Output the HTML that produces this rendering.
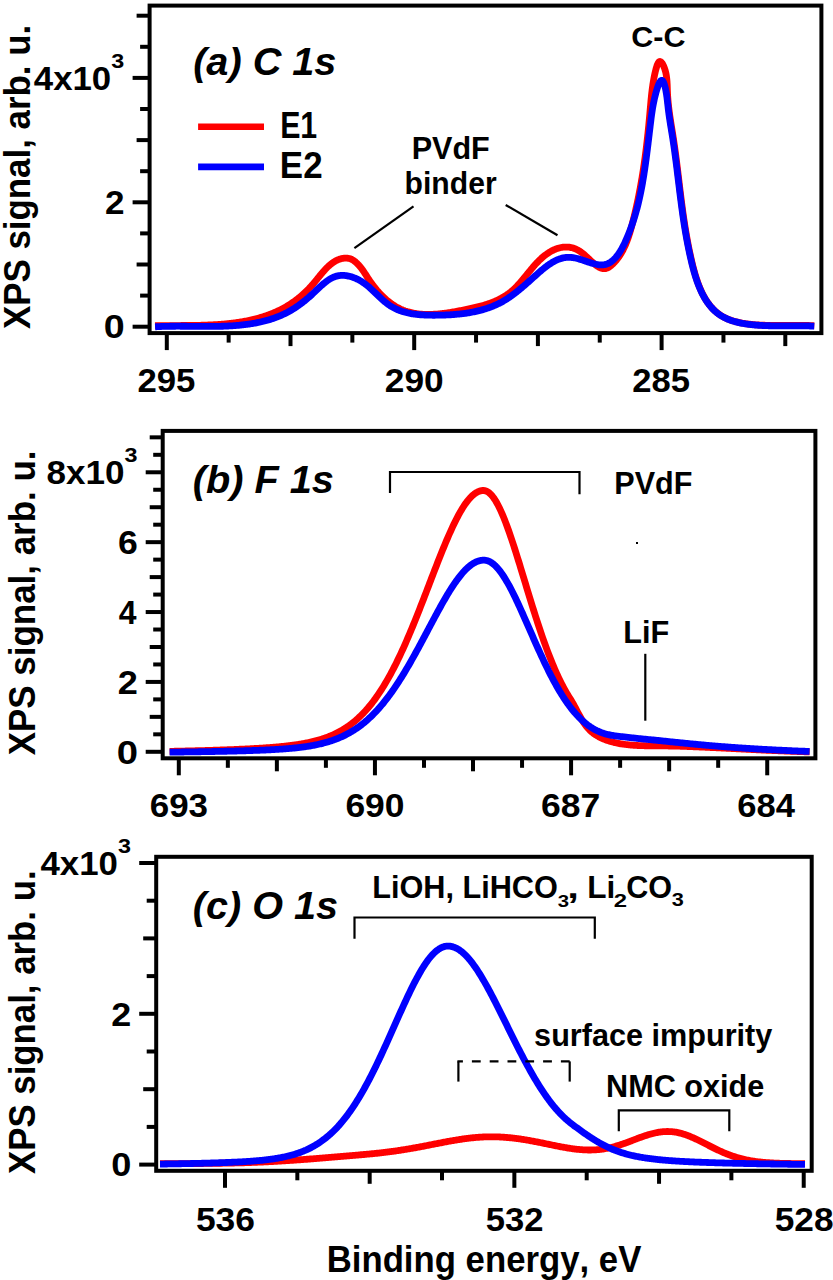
<!DOCTYPE html><html><head><meta charset="utf-8"><style>html,body{margin:0;padding:0;background:#fff;}svg{display:block}text{font-family:"Liberation Sans",sans-serif;font-weight:bold;font-kerning:none;fill:#000}</style></head><body><svg width="833" height="1280" viewBox="0 0 833 1280">
<rect width="833" height="1280" fill="#fff"/>
<path d="M155.04 325.77 L156.1 325.74 L157.17 325.72 L158.24 325.7 L159.32 325.68 L160.39 325.66 L161.47 325.65 L162.55 325.64 L163.64 325.62 L164.72 325.61 L165.81 325.6 L166.9 325.59 L167.99 325.58 L169.09 325.58 L170.19 325.57 L171.29 325.57 L172.39 325.56 L173.49 325.56 L174.6 325.55 L175.7 325.55 L176.81 325.54 L177.92 325.54 L179.03 325.53 L180.15 325.53 L181.26 325.52 L182.38 325.52 L183.5 325.51 L184.61 325.51 L185.73 325.5 L186.86 325.49 L187.98 325.48 L189.1 325.47 L190.23 325.46 L191.35 325.45 L192.48 325.43 L193.6 325.42 L194.73 325.4 L195.86 325.38 L196.99 325.36 L198.12 325.34 L199.25 325.31 L200.38 325.28 L201.51 325.25 L202.64 325.22 L203.77 325.19 L204.9 325.15 L206.03 325.11 L207.16 325.07 L208.29 325.02 L209.42 324.98 L210.55 324.93 L211.68 324.87 L212.81 324.81 L213.94 324.75 L215.07 324.69 L216.2 324.62 L217.32 324.55 L218.45 324.47 L219.58 324.39 L220.7 324.3 L221.83 324.22 L222.95 324.12 L224.07 324.02 L225.19 323.92 L226.31 323.82 L227.43 323.71 L228.55 323.59 L229.67 323.47 L230.78 323.34 L231.9 323.21 L233.01 323.07 L234.12 322.93 L235.23 322.78 L236.34 322.63 L237.44 322.47 L238.55 322.31 L239.65 322.14 L240.75 321.96 L241.85 321.78 L242.94 321.59 L244.04 321.39 L245.13 321.19 L246.22 320.98 L247.3 320.77 L248.39 320.55 L249.47 320.32 L250.55 320.08 L251.63 319.84 L252.7 319.59 L253.77 319.33 L254.84 319.07 L255.91 318.79 L256.97 318.51 L258.03 318.23 L259.09 317.93 L260.14 317.63 L261.19 317.31 L262.24 317 L263.28 316.67 L264.32 316.33 L265.36 315.99 L266.39 315.63 L267.42 315.27 L268.45 314.9 L269.47 314.52 L270.49 314.13 L271.51 313.73 L272.52 313.32 L273.53 312.91 L274.53 312.48 L275.53 312.04 L276.52 311.6 L277.51 311.14 L278.5 310.68 L279.48 310.2 L280.46 309.71 L281.43 309.22 L282.4 308.71 L283.37 308.2 L284.33 307.67 L285.28 307.13 L286.23 306.58 L287.18 306.02 L288.12 305.45 L289.05 304.87 L289.98 304.28 L290.91 303.67 L291.82 303.06 L292.74 302.43 L293.65 301.8 L294.55 301.15 L295.45 300.49 L296.34 299.83 L297.23 299.15 L298.11 298.46 L298.98 297.76 L299.85 297.04 L300.71 296.32 L301.57 295.59 L302.42 294.85 L303.26 294.09 L304.1 293.33 L304.93 292.56 L305.75 291.77 L306.57 290.98 L307.38 290.17 L308.18 289.36 L308.98 288.53 L309.76 287.7 L310.55 286.85 L311.32 285.99 L312.09 285.13 L312.85 284.25 L313.6 283.37 L314.35 282.48 L315.09 281.58 L315.83 280.68 L316.56 279.77 L317.29 278.87 L318.03 277.96 L318.76 277.06 L319.49 276.16 L320.22 275.26 L320.95 274.37 L321.69 273.49 L322.43 272.62 L323.17 271.76 L323.92 270.91 L324.67 270.07 L325.44 269.25 L326.21 268.44 L326.98 267.65 L327.77 266.88 L328.57 266.13 L329.38 265.41 L330.2 264.7 L331.03 264.02 L331.88 263.37 L332.74 262.75 L333.62 262.16 L334.51 261.59 L335.42 261.06 L336.35 260.56 L337.29 260.1 L338.26 259.68 L339.23 259.3 L340.22 258.96 L341.22 258.67 L342.22 258.44 L343.23 258.26 L344.24 258.13 L345.25 258.07 L346.26 258.07 L347.26 258.14 L348.26 258.28 L349.25 258.49 L350.23 258.78 L351.19 259.15 L352.14 259.61 L353.07 260.14 L353.98 260.75 L354.88 261.42 L355.75 262.15 L356.59 262.92 L357.42 263.72 L358.21 264.55 L358.98 265.4 L359.72 266.26 L360.45 267.13 L361.14 268.02 L361.83 268.91 L362.49 269.82 L363.14 270.74 L363.78 271.66 L364.4 272.59 L365.02 273.52 L365.63 274.46 L366.24 275.4 L366.85 276.35 L367.46 277.29 L368.07 278.24 L368.69 279.18 L369.32 280.12 L369.95 281.06 L370.6 281.99 L371.25 282.92 L371.92 283.85 L372.6 284.76 L373.28 285.68 L373.98 286.58 L374.69 287.48 L375.4 288.37 L376.13 289.25 L376.86 290.13 L377.61 290.99 L378.37 291.85 L379.13 292.69 L379.9 293.53 L380.69 294.36 L381.48 295.17 L382.28 295.97 L383.09 296.76 L383.91 297.54 L384.74 298.3 L385.58 299.05 L386.42 299.79 L387.28 300.51 L388.14 301.22 L389.01 301.91 L389.89 302.58 L390.78 303.24 L391.68 303.89 L392.58 304.51 L393.49 305.12 L394.41 305.71 L395.34 306.28 L396.28 306.83 L397.22 307.36 L398.17 307.87 L399.13 308.36 L400.09 308.83 L401.07 309.28 L402.05 309.7 L403.03 310.11 L404.03 310.49 L405.03 310.86 L406.03 311.2 L407.05 311.53 L408.07 311.83 L409.09 312.12 L410.12 312.39 L411.16 312.64 L412.2 312.87 L413.25 313.08 L414.3 313.28 L415.36 313.46 L416.42 313.62 L417.49 313.77 L418.56 313.9 L419.64 314.01 L420.72 314.11 L421.8 314.2 L422.89 314.27 L423.98 314.32 L425.08 314.36 L426.18 314.39 L427.28 314.41 L428.39 314.41 L429.5 314.4 L430.61 314.38 L431.72 314.35 L432.84 314.3 L433.96 314.25 L435.08 314.18 L436.2 314.1 L437.32 314.02 L438.45 313.92 L439.58 313.81 L440.71 313.7 L441.84 313.57 L442.97 313.44 L444.1 313.3 L445.23 313.15 L446.37 313 L447.5 312.84 L448.63 312.67 L449.77 312.49 L450.9 312.31 L452.04 312.13 L453.17 311.94 L454.3 311.74 L455.43 311.54 L456.56 311.33 L457.69 311.12 L458.82 310.91 L459.95 310.7 L461.07 310.48 L462.2 310.26 L463.32 310.03 L464.44 309.81 L465.56 309.58 L466.67 309.35 L467.78 309.12 L468.89 308.89 L470 308.65 L471.1 308.41 L472.2 308.17 L473.3 307.92 L474.4 307.67 L475.49 307.41 L476.57 307.15 L477.65 306.88 L478.73 306.61 L479.8 306.33 L480.87 306.04 L481.94 305.75 L483 305.45 L484.05 305.14 L485.1 304.82 L486.14 304.49 L487.18 304.16 L488.22 303.81 L489.24 303.46 L490.26 303.1 L491.28 302.72 L492.29 302.34 L493.29 301.94 L494.28 301.53 L495.27 301.11 L496.25 300.68 L497.22 300.24 L498.19 299.78 L499.15 299.31 L500.1 298.82 L501.04 298.33 L501.98 297.81 L502.91 297.28 L503.83 296.74 L504.74 296.18 L505.64 295.61 L506.53 295.02 L507.42 294.41 L508.29 293.79 L509.16 293.14 L510.01 292.48 L510.86 291.81 L511.69 291.11 L512.52 290.4 L513.34 289.66 L514.14 288.91 L514.94 288.15 L515.73 287.36 L516.52 286.57 L517.29 285.75 L518.06 284.93 L518.83 284.1 L519.59 283.25 L520.34 282.39 L521.09 281.53 L521.83 280.65 L522.58 279.77 L523.32 278.89 L524.05 277.99 L524.79 277.1 L525.52 276.2 L526.26 275.29 L526.99 274.39 L527.72 273.49 L528.46 272.58 L529.2 271.68 L529.93 270.77 L530.67 269.88 L531.42 268.98 L532.17 268.09 L532.92 267.21 L533.68 266.33 L534.44 265.46 L535.21 264.6 L535.98 263.75 L536.76 262.91 L537.55 262.08 L538.35 261.26 L539.15 260.46 L539.96 259.66 L540.79 258.89 L541.62 258.13 L542.46 257.39 L543.32 256.66 L544.18 255.96 L545.06 255.27 L545.94 254.61 L546.84 253.96 L547.74 253.34 L548.66 252.74 L549.58 252.17 L550.5 251.62 L551.44 251.1 L552.38 250.6 L553.33 250.14 L554.29 249.7 L555.25 249.29 L556.22 248.91 L557.19 248.56 L558.17 248.25 L559.15 247.97 L560.14 247.73 L561.13 247.51 L562.12 247.34 L563.12 247.2 L564.12 247.11 L565.12 247.05 L566.12 247.03 L567.12 247.05 L568.13 247.11 L569.13 247.22 L570.14 247.37 L571.14 247.56 L572.15 247.8 L573.15 248.08 L574.15 248.42 L575.15 248.8 L576.15 249.23 L577.14 249.71 L578.14 250.24 L579.13 250.83 L580.11 251.46 L581.09 252.15 L582.07 252.89 L583.04 253.67 L584.01 254.48 L584.98 255.32 L585.94 256.19 L586.9 257.07 L587.85 257.96 L588.8 258.85 L589.75 259.75 L590.69 260.63 L591.63 261.5 L592.57 262.35 L593.5 263.18 L594.43 263.97 L595.36 264.72 L596.28 265.42 L597.2 266.07 L598.11 266.67 L599.03 267.2 L599.94 267.66 L600.85 268.04 L601.75 268.34 L602.65 268.56 L603.55 268.67 L604.45 268.69 L605.34 268.59 L606.23 268.39 L607.12 268.08 L608 267.68 L608.87 267.19 L609.73 266.62 L610.58 265.99 L611.42 265.3 L612.24 264.56 L613.05 263.79 L613.84 262.98 L614.6 262.16 L615.35 261.33 L616.07 260.48 L616.78 259.61 L617.46 258.74 L618.13 257.85 L618.77 256.95 L619.4 256.03 L620.01 255.11 L620.61 254.17 L621.18 253.23 L621.74 252.27 L622.29 251.31 L622.81 250.33 L623.33 249.34 L623.82 248.35 L624.31 247.35 L624.78 246.34 L625.24 245.32 L625.68 244.29 L626.11 243.26 L626.53 242.22 L626.94 241.18 L627.34 240.13 L627.72 239.07 L628.1 238.01 L628.47 236.94 L628.82 235.87 L629.17 234.79 L629.51 233.71 L629.85 232.63 L630.17 231.55 L630.49 230.46 L630.8 229.37 L631.11 228.28 L631.41 227.18 L631.7 226.09 L631.99 225 L632.28 223.9 L632.56 222.8 L632.84 221.71 L633.12 220.61 L633.39 219.52 L633.66 218.43 L633.93 217.34 L634.2 216.24 L634.46 215.15 L634.72 214.06 L634.98 212.97 L635.23 211.88 L635.48 210.79 L635.73 209.71 L635.98 208.62 L636.22 207.53 L636.47 206.44 L636.71 205.36 L636.94 204.27 L637.18 203.18 L637.41 202.1 L637.64 201.01 L637.86 199.93 L638.09 198.85 L638.31 197.76 L638.53 196.68 L638.75 195.59 L638.96 194.51 L639.17 193.43 L639.38 192.34 L639.59 191.26 L639.8 190.18 L640 189.09 L640.2 188.01 L640.4 186.93 L640.6 185.85 L640.79 184.76 L640.98 183.68 L641.18 182.6 L641.36 181.52 L641.55 180.43 L641.73 179.35 L641.92 178.27 L642.1 177.18 L642.27 176.1 L642.45 175.02 L642.63 173.93 L642.8 172.85 L642.97 171.77 L643.14 170.68 L643.3 169.6 L643.47 168.51 L643.63 167.43 L643.79 166.34 L643.95 165.26 L644.11 164.17 L644.27 163.08 L644.42 161.99 L644.57 160.91 L644.73 159.82 L644.88 158.73 L645.02 157.64 L645.17 156.55 L645.31 155.46 L645.46 154.37 L645.6 153.28 L645.74 152.19 L645.88 151.09 L646.01 150 L646.15 148.91 L646.28 147.81 L646.42 146.72 L646.55 145.62 L646.68 144.52 L646.81 143.42 L646.93 142.32 L647.06 141.23 L647.18 140.12 L647.31 139.02 L647.43 137.92 L647.55 136.82 L647.67 135.71 L647.79 134.61 L647.91 133.5 L648.02 132.4 L648.14 131.29 L648.25 130.18 L648.37 129.07 L648.48 127.96 L648.59 126.84 L648.7 125.73 L648.81 124.62 L648.91 123.5 L649.02 122.38 L649.13 121.26 L649.23 120.14 L649.34 119.02 L649.44 117.9 L649.54 116.78 L649.64 115.65 L649.75 114.53 L649.85 113.4 L649.94 112.27 L650.04 111.14 L650.14 110.01 L650.24 108.87 L650.34 107.74 L650.44 106.6 L650.54 105.47 L650.64 104.33 L650.74 103.19 L650.84 102.06 L650.95 100.92 L651.05 99.78 L651.16 98.64 L651.28 97.5 L651.39 96.36 L651.51 95.22 L651.63 94.09 L651.76 92.95 L651.89 91.81 L652.03 90.67 L652.17 89.54 L652.32 88.4 L652.47 87.27 L652.63 86.14 L652.79 85 L652.96 83.87 L653.14 82.75 L653.32 81.62 L653.52 80.49 L653.72 79.37 L653.92 78.25 L654.14 77.13 L654.37 76.01 L654.6 74.89 L654.84 73.78 L655.09 72.67 L655.36 71.56 L655.63 70.45 L655.91 69.35 L656.21 68.26 L656.51 67.2 L656.83 66.19 L657.16 65.23 L657.5 64.35 L657.86 63.55 L658.23 62.86 L658.61 62.3 L659.01 61.87 L659.43 61.59 L659.86 61.48 L660.31 61.54 L660.77 61.78 L661.24 62.17 L661.72 62.7 L662.19 63.35 L662.66 64.12 L663.12 64.99 L663.57 65.93 L664 66.95 L664.41 68.01 L664.79 69.12 L665.15 70.25 L665.46 71.39 L665.75 72.53 L666 73.67 L666.22 74.82 L666.41 75.98 L666.57 77.13 L666.72 78.29 L666.84 79.45 L666.94 80.61 L667.03 81.77 L667.1 82.93 L667.17 84.1 L667.22 85.26 L667.26 86.43 L667.3 87.59 L667.34 88.75 L667.38 89.91 L667.42 91.07 L667.47 92.23 L667.52 93.39 L667.58 94.54 L667.64 95.7 L667.72 96.85 L667.8 98 L667.89 99.14 L667.98 100.29 L668.09 101.43 L668.19 102.57 L668.31 103.71 L668.43 104.85 L668.55 105.98 L668.68 107.11 L668.81 108.25 L668.95 109.38 L669.1 110.5 L669.24 111.63 L669.39 112.75 L669.55 113.88 L669.71 115 L669.87 116.12 L670.03 117.24 L670.2 118.36 L670.37 119.47 L670.54 120.59 L670.71 121.7 L670.88 122.81 L671.06 123.92 L671.24 125.03 L671.41 126.14 L671.59 127.25 L671.77 128.35 L671.95 129.46 L672.12 130.56 L672.3 131.67 L672.48 132.77 L672.65 133.87 L672.83 134.97 L673 136.07 L673.17 137.17 L673.34 138.27 L673.51 139.36 L673.67 140.46 L673.83 141.55 L674 142.65 L674.16 143.74 L674.31 144.84 L674.47 145.93 L674.62 147.02 L674.78 148.11 L674.93 149.2 L675.08 150.29 L675.23 151.38 L675.38 152.47 L675.52 153.56 L675.67 154.65 L675.81 155.73 L675.95 156.82 L676.09 157.91 L676.23 158.99 L676.37 160.08 L676.51 161.16 L676.65 162.25 L676.79 163.33 L676.92 164.42 L677.06 165.5 L677.19 166.58 L677.33 167.67 L677.46 168.75 L677.59 169.83 L677.72 170.92 L677.86 172 L677.99 173.08 L678.12 174.16 L678.25 175.24 L678.38 176.33 L678.51 177.41 L678.64 178.49 L678.77 179.57 L678.9 180.65 L679.03 181.73 L679.16 182.81 L679.29 183.9 L679.42 184.98 L679.55 186.06 L679.68 187.14 L679.81 188.22 L679.94 189.3 L680.07 190.39 L680.2 191.47 L680.34 192.55 L680.47 193.63 L680.6 194.72 L680.74 195.8 L680.87 196.88 L681.01 197.97 L681.15 199.05 L681.28 200.13 L681.42 201.22 L681.56 202.3 L681.7 203.39 L681.84 204.47 L681.99 205.56 L682.13 206.65 L682.27 207.73 L682.42 208.82 L682.57 209.91 L682.72 211 L682.87 212.09 L683.02 213.18 L683.17 214.27 L683.32 215.36 L683.48 216.45 L683.64 217.54 L683.8 218.63 L683.96 219.73 L684.12 220.82 L684.29 221.91 L684.45 223.01 L684.62 224.11 L684.79 225.2 L684.97 226.3 L685.14 227.4 L685.32 228.5 L685.5 229.6 L685.68 230.7 L685.86 231.8 L686.05 232.9 L686.24 234.01 L686.43 235.11 L686.62 236.22 L686.82 237.32 L687.02 238.43 L687.22 239.54 L687.42 240.65 L687.63 241.76 L687.84 242.87 L688.05 243.99 L688.27 245.1 L688.48 246.22 L688.71 247.33 L688.93 248.45 L689.16 249.57 L689.39 250.69 L689.62 251.81 L689.86 252.93 L690.1 254.06 L690.34 255.18 L690.59 256.31 L690.84 257.44 L691.09 258.56 L691.35 259.7 L691.61 260.83 L691.88 261.96 L692.15 263.09 L692.42 264.22 L692.7 265.36 L692.98 266.49 L693.27 267.62 L693.57 268.74 L693.87 269.87 L694.17 270.99 L694.48 272.12 L694.8 273.23 L695.13 274.35 L695.46 275.46 L695.8 276.57 L696.14 277.67 L696.5 278.77 L696.86 279.86 L697.23 280.95 L697.6 282.03 L697.99 283.1 L698.38 284.17 L698.79 285.23 L699.2 286.28 L699.62 287.33 L700.05 288.37 L700.49 289.4 L700.94 290.42 L701.41 291.43 L701.88 292.43 L702.36 293.42 L702.85 294.4 L703.36 295.37 L703.88 296.33 L704.4 297.28 L704.94 298.21 L705.5 299.14 L706.06 300.05 L706.64 300.95 L707.23 301.83 L707.83 302.7 L708.45 303.56 L709.08 304.4 L709.72 305.23 L710.38 306.05 L711.05 306.84 L711.74 307.63 L712.44 308.39 L713.15 309.14 L713.88 309.87 L714.63 310.59 L715.39 311.29 L716.17 311.96 L716.97 312.63 L717.78 313.27 L718.6 313.89 L719.45 314.49 L720.31 315.08 L721.18 315.64 L722.08 316.18 L722.99 316.71 L723.92 317.21 L724.87 317.69 L725.83 318.15 L726.81 318.6 L727.8 319.02 L728.8 319.43 L729.82 319.82 L730.85 320.19 L731.9 320.54 L732.95 320.88 L734.01 321.2 L735.09 321.5 L736.17 321.79 L737.27 322.07 L738.37 322.33 L739.48 322.58 L740.59 322.81 L741.71 323.03 L742.84 323.24 L743.97 323.43 L745.11 323.61 L746.25 323.78 L747.4 323.94 L748.55 324.09 L749.69 324.23 L750.85 324.36 L752 324.47 L753.15 324.58 L754.3 324.68 L755.45 324.78 L756.6 324.86 L757.74 324.94 L758.89 325.01 L760.03 325.07 L761.16 325.13 L762.29 325.18 L763.42 325.23 L764.54 325.27 L765.66 325.3 L766.78 325.33 L767.89 325.36 L769 325.38 L770.11 325.4 L771.22 325.41 L772.32 325.42 L773.42 325.43 L774.52 325.43 L775.61 325.43 L776.71 325.43 L777.8 325.43 L778.89 325.42 L779.98 325.41 L781.07 325.4 L782.16 325.39 L783.25 325.38 L784.34 325.37 L785.42 325.36 L786.51 325.35 L787.6 325.33 L788.69 325.32 L789.77 325.31 L790.86 325.3 L791.95 325.29 L793.05 325.29 L794.14 325.28 L795.23 325.28 L796.33 325.28 L797.43 325.28 L798.52 325.28 L799.63 325.29 L800.73 325.3 L801.84 325.31 L802.95 325.33 L804.06 325.35 L805.18 325.38 L806.3 325.41 L807.42 325.45 L808.54 325.49 L809.67 325.53 L810.81 325.59 L811.95 325.64 L813.09 325.71 L814.24 325.78" fill="none" stroke="#ff0000" stroke-width="6.8" stroke-linejoin="round" stroke-linecap="butt"/>
<path d="M155.08 326.82 L156.06 326.76 L157.05 326.7 L158.04 326.64 L159.03 326.6 L160.03 326.55 L161.03 326.51 L162.03 326.47 L163.03 326.43 L164.04 326.4 L165.05 326.37 L166.06 326.35 L167.08 326.32 L168.09 326.3 L169.11 326.28 L170.13 326.27 L171.16 326.25 L172.18 326.24 L173.21 326.24 L174.24 326.23 L175.28 326.23 L176.31 326.22 L177.35 326.22 L178.38 326.22 L179.42 326.22 L180.47 326.23 L181.51 326.23 L182.55 326.24 L183.6 326.25 L184.65 326.26 L185.7 326.26 L186.75 326.27 L187.8 326.28 L188.86 326.3 L189.91 326.31 L190.97 326.32 L192.02 326.33 L193.08 326.34 L194.14 326.35 L195.2 326.37 L196.26 326.38 L197.33 326.39 L198.39 326.4 L199.45 326.41 L200.52 326.42 L201.58 326.42 L202.65 326.43 L203.71 326.44 L204.78 326.44 L205.84 326.45 L206.91 326.45 L207.98 326.45 L209.04 326.45 L210.11 326.44 L211.18 326.44 L212.25 326.43 L213.31 326.42 L214.38 326.41 L215.45 326.4 L216.51 326.38 L217.58 326.37 L218.65 326.34 L219.71 326.32 L220.78 326.29 L221.84 326.26 L222.91 326.23 L223.97 326.2 L225.03 326.16 L226.09 326.11 L227.15 326.07 L228.21 326.02 L229.27 325.96 L230.33 325.9 L231.39 325.84 L232.45 325.78 L233.5 325.71 L234.56 325.63 L235.61 325.55 L236.66 325.47 L237.71 325.38 L238.76 325.29 L239.8 325.19 L240.85 325.09 L241.89 324.98 L242.94 324.86 L243.98 324.74 L245.01 324.62 L246.05 324.49 L247.09 324.35 L248.12 324.21 L249.15 324.06 L250.18 323.91 L251.2 323.75 L252.23 323.58 L253.25 323.41 L254.27 323.23 L255.29 323.05 L256.3 322.85 L257.31 322.65 L258.32 322.45 L259.33 322.23 L260.34 322.01 L261.34 321.79 L262.34 321.55 L263.33 321.31 L264.33 321.06 L265.32 320.8 L266.3 320.53 L267.29 320.26 L268.27 319.98 L269.25 319.68 L270.22 319.39 L271.19 319.08 L272.16 318.76 L273.13 318.44 L274.09 318.1 L275.04 317.76 L276 317.41 L276.95 317.05 L277.89 316.68 L278.84 316.3 L279.78 315.91 L280.71 315.52 L281.64 315.11 L282.57 314.69 L283.49 314.26 L284.41 313.83 L285.33 313.38 L286.24 312.92 L287.14 312.45 L288.04 311.97 L288.94 311.48 L289.83 310.99 L290.72 310.48 L291.61 309.96 L292.49 309.42 L293.36 308.88 L294.24 308.33 L295.11 307.77 L295.97 307.2 L296.83 306.62 L297.69 306.03 L298.55 305.44 L299.4 304.83 L300.24 304.21 L301.09 303.58 L301.93 302.95 L302.77 302.3 L303.6 301.65 L304.43 300.98 L305.26 300.31 L306.09 299.63 L306.91 298.94 L307.73 298.24 L308.55 297.53 L309.36 296.82 L310.18 296.09 L310.99 295.36 L311.8 294.62 L312.6 293.87 L313.41 293.12 L314.21 292.36 L315.01 291.59 L315.81 290.83 L316.61 290.06 L317.41 289.3 L318.21 288.54 L319.01 287.78 L319.81 287.03 L320.62 286.29 L321.43 285.56 L322.24 284.84 L323.05 284.13 L323.86 283.44 L324.68 282.77 L325.51 282.11 L326.34 281.48 L327.17 280.87 L328.01 280.28 L328.86 279.72 L329.71 279.18 L330.57 278.68 L331.43 278.2 L332.31 277.76 L333.19 277.35 L334.08 276.98 L334.98 276.64 L335.89 276.35 L336.8 276.09 L337.73 275.88 L338.67 275.71 L339.61 275.57 L340.56 275.48 L341.52 275.42 L342.49 275.41 L343.46 275.42 L344.43 275.48 L345.41 275.57 L346.39 275.69 L347.37 275.85 L348.35 276.04 L349.33 276.26 L350.32 276.52 L351.3 276.8 L352.28 277.11 L353.26 277.46 L354.24 277.83 L355.21 278.23 L356.18 278.65 L357.14 279.1 L358.1 279.58 L359.05 280.08 L359.99 280.61 L360.92 281.15 L361.85 281.72 L362.76 282.31 L363.67 282.92 L364.56 283.55 L365.44 284.2 L366.32 284.87 L367.18 285.55 L368.03 286.25 L368.87 286.96 L369.71 287.69 L370.53 288.42 L371.35 289.16 L372.17 289.91 L372.97 290.67 L373.78 291.43 L374.58 292.19 L375.37 292.96 L376.17 293.73 L376.96 294.5 L377.75 295.26 L378.53 296.02 L379.32 296.78 L380.11 297.53 L380.9 298.27 L381.69 299 L382.49 299.73 L383.29 300.44 L384.09 301.13 L384.89 301.82 L385.7 302.48 L386.52 303.13 L387.35 303.76 L388.18 304.38 L389.02 304.96 L389.86 305.53 L390.72 306.08 L391.58 306.61 L392.45 307.11 L393.32 307.6 L394.21 308.07 L395.1 308.52 L395.99 308.95 L396.9 309.36 L397.81 309.75 L398.72 310.13 L399.65 310.49 L400.58 310.83 L401.51 311.16 L402.45 311.47 L403.4 311.76 L404.35 312.04 L405.31 312.31 L406.27 312.56 L407.24 312.79 L408.22 313.02 L409.19 313.23 L410.18 313.42 L411.16 313.61 L412.16 313.78 L413.15 313.94 L414.15 314.09 L415.16 314.22 L416.17 314.35 L417.18 314.47 L418.2 314.57 L419.22 314.67 L420.24 314.76 L421.27 314.84 L422.3 314.91 L423.33 314.97 L424.37 315.02 L425.4 315.07 L426.45 315.11 L427.49 315.14 L428.54 315.17 L429.58 315.19 L430.63 315.21 L431.69 315.22 L432.74 315.23 L433.8 315.23 L434.85 315.23 L435.91 315.22 L436.97 315.21 L438.03 315.2 L439.09 315.18 L440.16 315.16 L441.22 315.14 L442.29 315.11 L443.35 315.08 L444.42 315.05 L445.48 315.01 L446.55 314.96 L447.61 314.91 L448.68 314.86 L449.74 314.8 L450.81 314.74 L451.87 314.67 L452.94 314.59 L454 314.51 L455.06 314.43 L456.13 314.34 L457.19 314.24 L458.25 314.14 L459.3 314.03 L460.36 313.92 L461.42 313.8 L462.47 313.67 L463.52 313.54 L464.57 313.4 L465.62 313.26 L466.67 313.1 L467.71 312.94 L468.75 312.77 L469.79 312.6 L470.82 312.42 L471.86 312.23 L472.89 312.03 L473.92 311.83 L474.94 311.61 L475.96 311.39 L476.98 311.16 L477.99 310.92 L479 310.68 L480.01 310.42 L481.01 310.16 L482.01 309.89 L483.01 309.61 L484 309.32 L484.98 309.02 L485.97 308.71 L486.94 308.39 L487.92 308.07 L488.88 307.73 L489.85 307.38 L490.8 307.02 L491.76 306.66 L492.7 306.28 L493.65 305.89 L494.58 305.49 L495.51 305.08 L496.44 304.66 L497.36 304.23 L498.27 303.79 L499.18 303.34 L500.08 302.88 L500.97 302.4 L501.86 301.92 L502.74 301.42 L503.62 300.91 L504.49 300.39 L505.36 299.87 L506.22 299.33 L507.07 298.78 L507.92 298.23 L508.77 297.66 L509.61 297.09 L510.45 296.51 L511.28 295.92 L512.12 295.32 L512.94 294.71 L513.77 294.1 L514.59 293.48 L515.4 292.85 L516.22 292.21 L517.03 291.57 L517.84 290.93 L518.64 290.27 L519.45 289.62 L520.25 288.95 L521.05 288.28 L521.85 287.61 L522.65 286.93 L523.45 286.25 L524.25 285.56 L525.05 284.87 L525.84 284.17 L526.64 283.47 L527.43 282.77 L528.23 282.07 L529.02 281.36 L529.82 280.65 L530.62 279.94 L531.42 279.22 L532.21 278.51 L533.02 277.79 L533.82 277.07 L534.62 276.35 L535.43 275.63 L536.23 274.91 L537.04 274.19 L537.85 273.48 L538.67 272.76 L539.49 272.05 L540.31 271.34 L541.13 270.63 L541.96 269.94 L542.79 269.25 L543.62 268.57 L544.46 267.9 L545.3 267.24 L546.14 266.59 L546.99 265.95 L547.84 265.33 L548.7 264.72 L549.56 264.13 L550.43 263.56 L551.3 263.01 L552.18 262.47 L553.06 261.95 L553.95 261.46 L554.85 260.99 L555.74 260.54 L556.65 260.11 L557.56 259.71 L558.48 259.34 L559.4 259 L560.33 258.68 L561.27 258.39 L562.22 258.14 L563.17 257.91 L564.12 257.72 L565.09 257.56 L566.06 257.44 L567.05 257.36 L568.03 257.31 L569.03 257.3 L570.04 257.33 L571.05 257.39 L572.07 257.5 L573.1 257.65 L574.14 257.82 L575.18 258.03 L576.22 258.27 L577.27 258.53 L578.33 258.82 L579.38 259.12 L580.44 259.44 L581.5 259.78 L582.56 260.12 L583.62 260.47 L584.68 260.83 L585.74 261.19 L586.8 261.55 L587.85 261.91 L588.9 262.25 L589.94 262.59 L590.98 262.92 L592.01 263.23 L593.03 263.53 L594.05 263.8 L595.06 264.05 L596.06 264.28 L597.04 264.47 L598.02 264.63 L598.99 264.76 L599.94 264.85 L600.88 264.9 L601.81 264.9 L602.72 264.86 L603.62 264.77 L604.5 264.62 L605.37 264.43 L606.22 264.19 L607.05 263.9 L607.87 263.56 L608.68 263.18 L609.46 262.76 L610.24 262.29 L611 261.79 L611.75 261.24 L612.48 260.66 L613.2 260.04 L613.9 259.39 L614.6 258.7 L615.28 257.98 L615.94 257.24 L616.59 256.46 L617.24 255.66 L617.86 254.83 L618.48 253.97 L619.08 253.09 L619.68 252.2 L620.26 251.28 L620.83 250.34 L621.39 249.38 L621.94 248.41 L622.47 247.43 L623 246.43 L623.52 245.42 L624.02 244.4 L624.52 243.37 L625 242.33 L625.48 241.29 L625.95 240.24 L626.41 239.19 L626.86 238.14 L627.3 237.09 L627.73 236.04 L628.16 235 L628.57 233.95 L628.98 232.92 L629.38 231.89 L629.78 230.86 L630.16 229.84 L630.54 228.83 L630.91 227.82 L631.28 226.81 L631.63 225.81 L631.99 224.82 L632.33 223.82 L632.67 222.84 L633 221.85 L633.32 220.87 L633.64 219.89 L633.96 218.92 L634.26 217.94 L634.57 216.97 L634.86 216 L635.15 215.03 L635.44 214.07 L635.72 213.1 L635.99 212.14 L636.27 211.17 L636.53 210.21 L636.79 209.25 L637.05 208.28 L637.3 207.32 L637.55 206.36 L637.8 205.39 L638.04 204.43 L638.27 203.46 L638.51 202.49 L638.74 201.52 L638.96 200.55 L639.19 199.57 L639.41 198.59 L639.62 197.61 L639.84 196.63 L640.05 195.64 L640.26 194.65 L640.47 193.66 L640.67 192.66 L640.87 191.67 L641.07 190.67 L641.26 189.66 L641.46 188.66 L641.65 187.65 L641.84 186.64 L642.02 185.63 L642.21 184.61 L642.39 183.6 L642.57 182.58 L642.74 181.56 L642.92 180.53 L643.09 179.51 L643.26 178.48 L643.43 177.45 L643.6 176.42 L643.76 175.39 L643.93 174.36 L644.09 173.33 L644.25 172.29 L644.4 171.25 L644.56 170.21 L644.72 169.17 L644.87 168.13 L645.02 167.09 L645.17 166.04 L645.32 165 L645.46 163.95 L645.61 162.91 L645.75 161.86 L645.9 160.81 L646.04 159.76 L646.18 158.71 L646.32 157.66 L646.45 156.61 L646.59 155.56 L646.73 154.51 L646.86 153.45 L647 152.4 L647.13 151.35 L647.26 150.29 L647.39 149.24 L647.52 148.19 L647.65 147.13 L647.78 146.08 L647.91 145.03 L648.04 143.98 L648.16 142.92 L648.29 141.87 L648.42 140.82 L648.54 139.77 L648.67 138.72 L648.79 137.67 L648.92 136.62 L649.04 135.57 L649.17 134.52 L649.29 133.47 L649.42 132.42 L649.54 131.38 L649.66 130.33 L649.79 129.29 L649.91 128.25 L650.04 127.21 L650.16 126.17 L650.28 125.13 L650.41 124.09 L650.53 123.05 L650.66 122.02 L650.79 120.98 L650.92 119.95 L651.05 118.92 L651.18 117.88 L651.31 116.85 L651.45 115.82 L651.59 114.79 L651.74 113.75 L651.89 112.72 L652.04 111.68 L652.2 110.65 L652.36 109.61 L652.53 108.57 L652.71 107.53 L652.89 106.49 L653.08 105.44 L653.27 104.4 L653.47 103.35 L653.68 102.3 L653.9 101.25 L654.12 100.19 L654.35 99.13 L654.6 98.07 L654.85 97 L655.11 95.93 L655.38 94.85 L655.66 93.78 L655.95 92.69 L656.25 91.61 L656.57 90.52 L656.89 89.45 L657.22 88.39 L657.56 87.36 L657.9 86.37 L658.25 85.42 L658.6 84.53 L658.96 83.69 L659.32 82.93 L659.68 82.25 L660.03 81.65 L660.39 81.15 L660.74 80.76 L661.09 80.48 L661.44 80.32 L661.78 80.29 L662.11 80.39 L662.44 80.61 L662.76 80.95 L663.07 81.39 L663.38 81.93 L663.68 82.56 L663.96 83.27 L664.24 84.06 L664.51 84.91 L664.77 85.82 L665.03 86.78 L665.27 87.78 L665.5 88.82 L665.72 89.89 L665.92 90.97 L666.12 92.07 L666.31 93.18 L666.48 94.29 L666.65 95.4 L666.81 96.53 L666.96 97.65 L667.1 98.78 L667.24 99.92 L667.37 101.05 L667.51 102.18 L667.63 103.32 L667.76 104.45 L667.89 105.58 L668.02 106.71 L668.14 107.83 L668.28 108.96 L668.41 110.07 L668.55 111.18 L668.69 112.28 L668.83 113.38 L668.98 114.47 L669.13 115.56 L669.29 116.64 L669.44 117.72 L669.6 118.79 L669.76 119.86 L669.93 120.92 L670.09 121.99 L670.26 123.04 L670.43 124.1 L670.59 125.15 L670.76 126.19 L670.93 127.24 L671.1 128.28 L671.27 129.32 L671.44 130.36 L671.61 131.39 L671.78 132.43 L671.95 133.46 L672.12 134.49 L672.28 135.52 L672.45 136.55 L672.61 137.57 L672.77 138.6 L672.93 139.63 L673.09 140.65 L673.24 141.68 L673.4 142.7 L673.55 143.73 L673.7 144.75 L673.85 145.77 L674 146.8 L674.14 147.82 L674.29 148.84 L674.43 149.86 L674.57 150.88 L674.71 151.9 L674.85 152.92 L674.99 153.94 L675.13 154.96 L675.27 155.98 L675.4 156.99 L675.54 158.01 L675.67 159.03 L675.8 160.05 L675.94 161.06 L676.07 162.08 L676.2 163.1 L676.33 164.11 L676.46 165.13 L676.58 166.14 L676.71 167.16 L676.84 168.17 L676.97 169.19 L677.09 170.2 L677.22 171.22 L677.34 172.23 L677.47 173.25 L677.59 174.26 L677.71 175.28 L677.84 176.29 L677.96 177.3 L678.09 178.32 L678.21 179.33 L678.33 180.35 L678.46 181.36 L678.58 182.37 L678.7 183.39 L678.83 184.4 L678.95 185.41 L679.07 186.43 L679.2 187.44 L679.32 188.46 L679.45 189.47 L679.57 190.49 L679.7 191.5 L679.82 192.52 L679.95 193.53 L680.08 194.55 L680.2 195.56 L680.33 196.58 L680.46 197.59 L680.59 198.61 L680.72 199.63 L680.85 200.64 L680.98 201.66 L681.11 202.68 L681.25 203.7 L681.38 204.71 L681.52 205.73 L681.65 206.75 L681.79 207.77 L681.93 208.79 L682.07 209.81 L682.21 210.83 L682.35 211.85 L682.49 212.87 L682.64 213.9 L682.79 214.92 L682.93 215.94 L683.08 216.97 L683.23 217.99 L683.38 219.01 L683.54 220.04 L683.69 221.07 L683.85 222.09 L684.01 223.12 L684.17 224.15 L684.33 225.18 L684.49 226.2 L684.66 227.23 L684.83 228.26 L685 229.3 L685.17 230.33 L685.34 231.36 L685.52 232.39 L685.7 233.43 L685.88 234.46 L686.06 235.5 L686.24 236.54 L686.43 237.57 L686.62 238.61 L686.81 239.65 L687 240.69 L687.2 241.73 L687.4 242.77 L687.6 243.82 L687.81 244.86 L688.01 245.91 L688.22 246.95 L688.43 248 L688.65 249.05 L688.87 250.09 L689.09 251.14 L689.31 252.2 L689.54 253.25 L689.77 254.3 L690 255.35 L690.23 256.41 L690.47 257.47 L690.71 258.52 L690.96 259.58 L691.21 260.64 L691.46 261.7 L691.71 262.76 L691.97 263.82 L692.24 264.88 L692.5 265.94 L692.78 267 L693.05 268.06 L693.34 269.11 L693.62 270.17 L693.91 271.22 L694.21 272.27 L694.52 273.31 L694.82 274.36 L695.14 275.4 L695.46 276.43 L695.79 277.47 L696.12 278.5 L696.46 279.52 L696.81 280.54 L697.16 281.55 L697.53 282.56 L697.9 283.57 L698.27 284.56 L698.66 285.55 L699.05 286.54 L699.45 287.52 L699.86 288.49 L700.28 289.45 L700.71 290.4 L701.14 291.35 L701.59 292.29 L702.04 293.22 L702.51 294.14 L702.98 295.05 L703.47 295.96 L703.96 296.85 L704.46 297.73 L704.98 298.6 L705.5 299.46 L706.04 300.31 L706.59 301.15 L707.14 301.98 L707.71 302.8 L708.3 303.6 L708.89 304.39 L709.49 305.17 L710.11 305.93 L710.74 306.68 L711.38 307.42 L712.04 308.14 L712.7 308.85 L713.38 309.55 L714.08 310.23 L714.79 310.89 L715.51 311.54 L716.24 312.18 L716.99 312.79 L717.75 313.39 L718.53 313.98 L719.32 314.55 L720.13 315.1 L720.95 315.63 L721.79 316.14 L722.64 316.64 L723.51 317.12 L724.39 317.58 L725.28 318.03 L726.19 318.45 L727.11 318.86 L728.04 319.26 L728.99 319.64 L729.94 320 L730.91 320.35 L731.89 320.69 L732.87 321.01 L733.87 321.31 L734.87 321.61 L735.89 321.88 L736.91 322.15 L737.93 322.4 L738.97 322.65 L740.01 322.87 L741.06 323.09 L742.11 323.3 L743.17 323.49 L744.23 323.68 L745.29 323.85 L746.36 324.01 L747.43 324.17 L748.51 324.31 L749.58 324.45 L750.66 324.58 L751.74 324.7 L752.82 324.81 L753.89 324.91 L754.97 325.01 L756.05 325.1 L757.12 325.18 L758.19 325.26 L759.26 325.33 L760.33 325.39 L761.39 325.45 L762.45 325.51 L763.51 325.56 L764.56 325.6 L765.61 325.65 L766.66 325.68 L767.7 325.71 L768.74 325.74 L769.78 325.77 L770.82 325.79 L771.86 325.81 L772.89 325.82 L773.92 325.84 L774.95 325.85 L775.98 325.85 L777.01 325.86 L778.03 325.86 L779.06 325.86 L780.08 325.86 L781.1 325.86 L782.13 325.85 L783.15 325.85 L784.17 325.84 L785.19 325.84 L786.21 325.83 L787.23 325.83 L788.25 325.82 L789.28 325.81 L790.3 325.8 L791.32 325.8 L792.34 325.79 L793.37 325.79 L794.4 325.78 L795.42 325.78 L796.45 325.78 L797.48 325.78 L798.51 325.79 L799.55 325.79 L800.58 325.8 L801.62 325.81 L802.66 325.82 L803.7 325.84 L804.75 325.85 L805.79 325.88 L806.84 325.9 L807.9 325.93 L808.95 325.96 L810.01 326 L811.08 326.04 L812.14 326.09 L813.21 326.14 L814.29 326.19" fill="none" stroke="#0000ff" stroke-width="6.8" stroke-linejoin="round" stroke-linecap="butt"/>
<path d="M169.6 751.36 L170.6 751.34 L171.6 751.32 L172.6 751.3 L173.6 751.28 L174.6 751.26 L175.6 751.24 L176.6 751.22 L177.6 751.2 L178.6 751.17 L179.6 751.15 L180.6 751.13 L181.6 751.11 L182.6 751.09 L183.6 751.06 L184.6 751.04 L185.6 751.02 L186.6 751 L187.6 750.97 L188.6 750.95 L189.6 750.92 L190.6 750.9 L191.6 750.88 L192.6 750.85 L193.6 750.83 L194.6 750.8 L195.6 750.77 L196.6 750.75 L197.6 750.72 L198.6 750.7 L199.6 750.67 L200.6 750.64 L201.6 750.61 L202.6 750.59 L203.6 750.56 L204.6 750.53 L205.6 750.5 L206.6 750.47 L207.6 750.44 L208.6 750.41 L209.6 750.38 L210.6 750.35 L211.6 750.32 L212.6 750.29 L213.6 750.26 L214.6 750.22 L215.6 750.19 L216.6 750.16 L217.6 750.13 L218.6 750.09 L219.6 750.06 L220.6 750.02 L221.6 749.99 L222.6 749.95 L223.6 749.92 L224.6 749.88 L225.6 749.84 L226.6 749.81 L227.6 749.77 L228.6 749.73 L229.6 749.69 L230.6 749.65 L231.6 749.61 L232.6 749.57 L233.6 749.53 L234.6 749.49 L235.6 749.45 L236.6 749.4 L237.6 749.36 L238.6 749.32 L239.6 749.27 L240.6 749.23 L241.6 749.18 L242.6 749.13 L243.6 749.09 L244.6 749.04 L245.6 748.99 L246.6 748.94 L247.6 748.89 L248.6 748.84 L249.6 748.79 L250.6 748.73 L251.6 748.68 L252.6 748.62 L253.6 748.57 L254.6 748.51 L255.6 748.46 L256.6 748.4 L257.6 748.34 L258.6 748.28 L259.6 748.21 L260.6 748.15 L261.6 748.09 L262.6 748.02 L263.6 747.96 L264.6 747.89 L265.6 747.82 L266.6 747.75 L267.6 747.68 L268.6 747.6 L269.6 747.53 L270.6 747.45 L271.6 747.37 L272.6 747.29 L273.6 747.21 L274.6 747.13 L275.6 747.04 L276.6 746.95 L277.6 746.86 L278.6 746.77 L279.6 746.68 L280.6 746.58 L281.6 746.48 L282.6 746.38 L283.6 746.28 L284.6 746.17 L285.6 746.06 L286.6 745.95 L287.6 745.84 L288.6 745.72 L289.6 745.6 L290.6 745.47 L291.6 745.35 L292.6 745.22 L293.6 745.08 L294.6 744.94 L295.6 744.8 L296.6 744.65 L297.6 744.5 L298.6 744.35 L299.6 744.19 L300.6 744.02 L301.6 743.86 L302.6 743.68 L303.6 743.5 L304.6 743.32 L305.6 743.13 L306.6 742.93 L307.6 742.73 L308.6 742.52 L309.6 742.31 L310.6 742.08 L311.6 741.86 L312.6 741.62 L313.6 741.38 L314.6 741.13 L315.6 740.87 L316.6 740.61 L317.6 740.33 L318.6 740.05 L319.6 739.76 L320.6 739.45 L321.6 739.14 L322.6 738.82 L323.6 738.49 L324.6 738.15 L325.6 737.8 L326.6 737.44 L327.6 737.06 L328.6 736.68 L329.6 736.28 L330.6 735.87 L331.6 735.45 L332.6 735.01 L333.6 734.56 L334.6 734.1 L335.6 733.62 L336.6 733.13 L337.6 732.62 L338.6 732.1 L339.6 731.56 L340.6 731.01 L341.6 730.44 L342.6 729.85 L343.6 729.24 L344.6 728.62 L345.6 727.98 L346.6 727.32 L347.6 726.64 L348.6 725.94 L349.6 725.22 L350.6 724.48 L351.6 723.73 L352.6 722.94 L353.6 722.14 L354.6 721.32 L355.6 720.47 L356.6 719.6 L357.6 718.71 L358.6 717.79 L359.6 716.85 L360.6 715.89 L361.6 714.9 L362.6 713.88 L363.6 712.84 L364.6 711.78 L365.6 710.69 L366.6 709.57 L367.6 708.42 L368.6 707.25 L369.6 706.05 L370.6 704.82 L371.6 703.56 L372.6 702.27 L373.6 700.96 L374.6 699.61 L375.6 698.24 L376.6 696.84 L377.6 695.4 L378.6 693.94 L379.6 692.45 L380.6 690.92 L381.6 689.37 L382.6 687.79 L383.6 686.17 L384.6 684.53 L385.6 682.85 L386.6 681.14 L387.6 679.41 L388.6 677.64 L389.6 675.84 L390.6 674.01 L391.6 672.15 L392.6 670.26 L393.6 668.34 L394.6 666.39 L395.6 664.41 L396.6 662.4 L397.6 660.36 L398.6 658.29 L399.6 656.2 L400.6 654.07 L401.6 651.92 L402.6 649.74 L403.6 647.54 L404.6 645.3 L405.6 643.05 L406.6 640.76 L407.6 638.46 L408.6 636.13 L409.6 633.77 L410.6 631.4 L411.6 629 L412.6 626.58 L413.6 624.15 L414.6 621.69 L415.6 619.22 L416.6 616.72 L417.6 614.22 L418.6 611.7 L419.6 609.16 L420.6 606.61 L421.6 604.05 L422.6 601.48 L423.6 598.9 L424.6 596.31 L425.6 593.72 L426.6 591.12 L427.6 588.51 L428.6 585.91 L429.6 583.3 L430.6 580.7 L431.6 578.09 L432.6 575.49 L433.6 572.9 L434.6 570.31 L435.6 567.73 L436.6 565.16 L437.6 562.6 L438.6 560.06 L439.6 557.53 L440.6 555.01 L441.6 552.52 L442.6 550.05 L443.6 547.6 L444.6 545.18 L445.6 542.78 L446.6 540.41 L447.6 538.08 L448.6 535.77 L449.6 533.5 L450.6 531.27 L451.6 529.07 L452.6 526.92 L453.6 524.81 L454.6 522.74 L455.6 520.72 L456.6 518.75 L457.6 516.83 L458.6 514.96 L459.6 513.15 L460.6 511.4 L461.6 509.7 L462.6 508.06 L463.6 506.49 L464.6 504.98 L465.6 503.54 L466.6 502.16 L467.6 500.86 L468.6 499.62 L469.6 498.46 L470.6 497.37 L471.6 496.36 L472.6 495.43 L473.6 494.57 L474.6 493.79 L475.6 493.09 L476.6 492.47 L477.6 491.94 L478.6 491.48 L479.6 491.11 L480.6 490.83 L481.6 490.62 L482.6 490.5 L483.6 490.48 L484.6 490.59 L485.6 490.84 L486.6 491.23 L487.6 491.76 L488.6 492.43 L489.6 493.23 L490.6 494.17 L491.6 495.24 L492.6 496.44 L493.6 497.77 L494.6 499.22 L495.6 500.8 L496.6 502.49 L497.6 504.29 L498.6 506.21 L499.6 508.23 L500.6 510.35 L501.6 512.57 L502.6 514.89 L503.6 517.29 L504.6 519.78 L505.6 522.36 L506.6 525 L507.6 527.72 L508.6 530.51 L509.6 533.36 L510.6 536.27 L511.6 539.23 L512.6 542.24 L513.6 545.3 L514.6 548.4 L515.6 551.54 L516.6 554.71 L517.6 557.9 L518.6 561.13 L519.6 564.37 L520.6 567.64 L521.6 570.92 L522.6 574.2 L523.6 577.5 L524.6 580.8 L525.6 584.09 L526.6 587.39 L527.6 590.68 L528.6 593.96 L529.6 597.23 L530.6 600.48 L531.6 603.72 L532.6 606.93 L533.6 610.13 L534.6 613.3 L535.6 616.44 L536.6 619.55 L537.6 622.63 L538.6 625.68 L539.6 628.69 L540.6 631.67 L541.6 634.61 L542.6 637.5 L543.6 640.36 L544.6 643.18 L545.6 645.95 L546.6 648.67 L547.6 651.35 L548.6 653.99 L549.6 656.57 L550.6 659.11 L551.6 661.6 L552.6 664.04 L553.6 666.42 L554.6 668.76 L555.6 671.05 L556.6 673.29 L557.6 675.47 L558.6 677.61 L559.6 679.69 L560.6 681.73 L561.6 683.71 L562.6 685.64 L563.6 687.52 L564.6 689.35 L565.6 691.14 L566.6 692.87 L567.6 694.55 L568.6 696.19 L569.6 697.78 L570.6 699.34 L571.6 700.98 L572.6 702.69 L573.6 704.47 L574.6 706.31 L575.6 708.19 L576.6 710.09 L577.6 711.99 L578.6 713.87 L579.6 715.72 L580.6 717.52 L581.6 719.25 L582.6 720.91 L583.6 722.48 L584.6 723.96 L585.6 725.35 L586.6 726.64 L587.6 727.85 L588.6 728.97 L589.6 730 L590.6 730.97 L591.6 731.86 L592.6 732.68 L593.6 733.46 L594.6 734.18 L595.6 734.85 L596.6 735.48 L597.6 736.08 L598.6 736.64 L599.6 737.17 L600.6 737.67 L601.6 738.15 L602.6 738.6 L603.6 739.03 L604.6 739.44 L605.6 739.83 L606.6 740.2 L607.6 740.56 L608.6 740.89 L609.6 741.21 L610.6 741.51 L611.6 741.8 L612.6 742.07 L613.6 742.33 L614.6 742.57 L615.6 742.8 L616.6 743.02 L617.6 743.23 L618.6 743.42 L619.6 743.6 L620.6 743.78 L621.6 743.94 L622.6 744.09 L623.6 744.24 L624.6 744.37 L625.6 744.5 L626.6 744.62 L627.6 744.73 L628.6 744.83 L629.6 744.93 L630.6 745.02 L631.6 745.1 L632.6 745.18 L633.6 745.25 L634.6 745.32 L635.6 745.38 L636.6 745.43 L637.6 745.48 L638.6 745.53 L639.6 745.57 L640.6 745.61 L641.6 745.65 L642.6 745.68 L643.6 745.71 L644.6 745.73 L645.6 745.75 L646.6 745.77 L647.6 745.79 L648.6 745.81 L649.6 745.82 L650.6 745.84 L651.6 745.85 L652.6 745.86 L653.6 745.86 L654.6 745.87 L655.6 745.88 L656.6 745.89 L657.6 745.89 L658.6 745.9 L659.6 745.91 L660.6 745.91 L661.6 745.92 L662.6 745.92 L663.6 745.93 L664.6 745.94 L665.6 745.95 L666.6 745.96 L667.6 745.97 L668.6 745.98 L669.6 745.99 L670.6 746.01 L671.6 746.03 L672.6 746.04 L673.6 746.06 L674.6 746.08 L675.6 746.11 L676.6 746.13 L677.6 746.16 L678.6 746.18 L679.6 746.22 L680.6 746.25 L681.6 746.28 L682.6 746.32 L683.6 746.36 L684.6 746.39 L685.6 746.43 L686.6 746.47 L687.6 746.51 L688.6 746.55 L689.6 746.59 L690.6 746.62 L691.6 746.66 L692.6 746.7 L693.6 746.74 L694.6 746.78 L695.6 746.83 L696.6 746.87 L697.6 746.91 L698.6 746.95 L699.6 746.99 L700.6 747.03 L701.6 747.08 L702.6 747.12 L703.6 747.16 L704.6 747.21 L705.6 747.25 L706.6 747.3 L707.6 747.34 L708.6 747.39 L709.6 747.43 L710.6 747.48 L711.6 747.52 L712.6 747.57 L713.6 747.62 L714.6 747.66 L715.6 747.71 L716.6 747.76 L717.6 747.81 L718.6 747.85 L719.6 747.9 L720.6 747.95 L721.6 748 L722.6 748.05 L723.6 748.1 L724.6 748.15 L725.6 748.19 L726.6 748.24 L727.6 748.29 L728.6 748.34 L729.6 748.39 L730.6 748.44 L731.6 748.49 L732.6 748.54 L733.6 748.6 L734.6 748.65 L735.6 748.7 L736.6 748.75 L737.6 748.8 L738.6 748.85 L739.6 748.9 L740.6 748.95 L741.6 749 L742.6 749.05 L743.6 749.1 L744.6 749.15 L745.6 749.2 L746.6 749.25 L747.6 749.3 L748.6 749.35 L749.6 749.4 L750.6 749.45 L751.6 749.5 L752.6 749.55 L753.6 749.6 L754.6 749.65 L755.6 749.7 L756.6 749.75 L757.6 749.8 L758.6 749.85 L759.6 749.9 L760.6 749.95 L761.6 749.99 L762.6 750.04 L763.6 750.09 L764.6 750.14 L765.6 750.18 L766.6 750.23 L767.6 750.28 L768.6 750.32 L769.6 750.37 L770.6 750.41 L771.6 750.46 L772.6 750.5 L773.6 750.55 L774.6 750.59 L775.6 750.64 L776.6 750.68 L777.6 750.72 L778.6 750.77 L779.6 750.81 L780.6 750.85 L781.6 750.89 L782.6 750.93 L783.6 750.97 L784.6 751.01 L785.6 751.05 L786.6 751.09 L787.6 751.13 L788.6 751.17 L789.6 751.21 L790.6 751.25 L791.6 751.28 L792.6 751.32 L793.6 751.36 L794.6 751.39 L795.6 751.43 L796.6 751.46 L797.6 751.5 L798.6 751.53 L799.6 751.57 L800.6 751.6 L801.6 751.63 L802.6 751.67 L803.6 751.7 L804.6 751.73 L805.6 751.76 L806.6 751.79 L807.6 751.82 L808.6 751.85 L809.6 751.88" fill="none" stroke="#ff0000" stroke-width="6.8" stroke-linejoin="round" stroke-linecap="butt"/>
<path d="M169.6 752.17 L170.6 752.16 L171.6 752.14 L172.6 752.13 L173.6 752.12 L174.6 752.11 L175.6 752.09 L176.6 752.08 L177.6 752.07 L178.6 752.05 L179.6 752.04 L180.6 752.03 L181.6 752.01 L182.6 752 L183.6 751.99 L184.6 751.97 L185.6 751.96 L186.6 751.94 L187.6 751.93 L188.6 751.91 L189.6 751.9 L190.6 751.88 L191.6 751.87 L192.6 751.85 L193.6 751.84 L194.6 751.82 L195.6 751.81 L196.6 751.79 L197.6 751.78 L198.6 751.76 L199.6 751.74 L200.6 751.73 L201.6 751.71 L202.6 751.69 L203.6 751.68 L204.6 751.66 L205.6 751.64 L206.6 751.62 L207.6 751.61 L208.6 751.59 L209.6 751.57 L210.6 751.55 L211.6 751.53 L212.6 751.51 L213.6 751.49 L214.6 751.48 L215.6 751.46 L216.6 751.44 L217.6 751.42 L218.6 751.4 L219.6 751.38 L220.6 751.36 L221.6 751.33 L222.6 751.31 L223.6 751.29 L224.6 751.27 L225.6 751.25 L226.6 751.23 L227.6 751.2 L228.6 751.18 L229.6 751.16 L230.6 751.13 L231.6 751.11 L232.6 751.08 L233.6 751.06 L234.6 751.04 L235.6 751.01 L236.6 750.98 L237.6 750.96 L238.6 750.93 L239.6 750.9 L240.6 750.88 L241.6 750.85 L242.6 750.82 L243.6 750.79 L244.6 750.76 L245.6 750.73 L246.6 750.7 L247.6 750.67 L248.6 750.64 L249.6 750.61 L250.6 750.58 L251.6 750.54 L252.6 750.51 L253.6 750.47 L254.6 750.44 L255.6 750.4 L256.6 750.37 L257.6 750.33 L258.6 750.29 L259.6 750.25 L260.6 750.21 L261.6 750.17 L262.6 750.13 L263.6 750.09 L264.6 750.04 L265.6 750 L266.6 749.95 L267.6 749.9 L268.6 749.86 L269.6 749.81 L270.6 749.76 L271.6 749.7 L272.6 749.65 L273.6 749.6 L274.6 749.54 L275.6 749.48 L276.6 749.42 L277.6 749.36 L278.6 749.3 L279.6 749.23 L280.6 749.17 L281.6 749.1 L282.6 749.03 L283.6 748.96 L284.6 748.88 L285.6 748.81 L286.6 748.73 L287.6 748.65 L288.6 748.56 L289.6 748.48 L290.6 748.39 L291.6 748.29 L292.6 748.2 L293.6 748.1 L294.6 748 L295.6 747.9 L296.6 747.79 L297.6 747.68 L298.6 747.56 L299.6 747.45 L300.6 747.32 L301.6 747.2 L302.6 747.07 L303.6 746.93 L304.6 746.79 L305.6 746.65 L306.6 746.5 L307.6 746.35 L308.6 746.19 L309.6 746.03 L310.6 745.86 L311.6 745.68 L312.6 745.5 L313.6 745.32 L314.6 745.12 L315.6 744.93 L316.6 744.72 L317.6 744.51 L318.6 744.29 L319.6 744.06 L320.6 743.83 L321.6 743.59 L322.6 743.34 L323.6 743.08 L324.6 742.82 L325.6 742.54 L326.6 742.26 L327.6 741.97 L328.6 741.67 L329.6 741.35 L330.6 741.03 L331.6 740.7 L332.6 740.36 L333.6 740.01 L334.6 739.65 L335.6 739.27 L336.6 738.89 L337.6 738.49 L338.6 738.08 L339.6 737.66 L340.6 737.23 L341.6 736.78 L342.6 736.32 L343.6 735.84 L344.6 735.36 L345.6 734.86 L346.6 734.34 L347.6 733.81 L348.6 733.26 L349.6 732.7 L350.6 732.13 L351.6 731.54 L352.6 730.93 L353.6 730.3 L354.6 729.66 L355.6 729 L356.6 728.33 L357.6 727.64 L358.6 726.93 L359.6 726.2 L360.6 725.45 L361.6 724.69 L362.6 723.9 L363.6 723.1 L364.6 722.28 L365.6 721.43 L366.6 720.57 L367.6 719.69 L368.6 718.79 L369.6 717.87 L370.6 716.92 L371.6 715.96 L372.6 714.98 L373.6 713.97 L374.6 712.95 L375.6 711.9 L376.6 710.83 L377.6 709.74 L378.6 708.62 L379.6 707.49 L380.6 706.33 L381.6 705.16 L382.6 703.96 L383.6 702.74 L384.6 701.49 L385.6 700.23 L386.6 698.94 L387.6 697.63 L388.6 696.3 L389.6 694.95 L390.6 693.57 L391.6 692.18 L392.6 690.76 L393.6 689.33 L394.6 687.87 L395.6 686.39 L396.6 684.89 L397.6 683.37 L398.6 681.83 L399.6 680.27 L400.6 678.69 L401.6 677.1 L402.6 675.48 L403.6 673.85 L404.6 672.2 L405.6 670.53 L406.6 668.84 L407.6 667.14 L408.6 665.42 L409.6 663.69 L410.6 661.94 L411.6 660.18 L412.6 658.4 L413.6 656.62 L414.6 654.82 L415.6 653 L416.6 651.18 L417.6 649.35 L418.6 647.51 L419.6 645.66 L420.6 643.8 L421.6 641.93 L422.6 640.06 L423.6 638.19 L424.6 636.31 L425.6 634.42 L426.6 632.54 L427.6 630.65 L428.6 628.76 L429.6 626.88 L430.6 624.99 L431.6 623.11 L432.6 621.23 L433.6 619.36 L434.6 617.49 L435.6 615.63 L436.6 613.78 L437.6 611.94 L438.6 610.11 L439.6 608.29 L440.6 606.49 L441.6 604.7 L442.6 602.93 L443.6 601.17 L444.6 599.44 L445.6 597.72 L446.6 596.02 L447.6 594.35 L448.6 592.7 L449.6 591.08 L450.6 589.48 L451.6 587.91 L452.6 586.37 L453.6 584.87 L454.6 583.39 L455.6 581.95 L456.6 580.54 L457.6 579.17 L458.6 577.84 L459.6 576.55 L460.6 575.29 L461.6 574.08 L462.6 572.91 L463.6 571.79 L464.6 570.71 L465.6 569.68 L466.6 568.69 L467.6 567.76 L468.6 566.87 L469.6 566.04 L470.6 565.25 L471.6 564.52 L472.6 563.85 L473.6 563.23 L474.6 562.66 L475.6 562.15 L476.6 561.7 L477.6 561.3 L478.6 560.96 L479.6 560.68 L480.6 560.46 L481.6 560.29 L482.6 560.19 L483.6 560.15 L484.6 560.17 L485.6 560.28 L486.6 560.47 L487.6 560.76 L488.6 561.13 L489.6 561.59 L490.6 562.13 L491.6 562.75 L492.6 563.46 L493.6 564.25 L494.6 565.12 L495.6 566.07 L496.6 567.1 L497.6 568.2 L498.6 569.37 L499.6 570.62 L500.6 571.93 L501.6 573.31 L502.6 574.76 L503.6 576.26 L504.6 577.83 L505.6 579.46 L506.6 581.14 L507.6 582.87 L508.6 584.66 L509.6 586.49 L510.6 588.37 L511.6 590.29 L512.6 592.25 L513.6 594.24 L514.6 596.28 L515.6 598.34 L516.6 600.44 L517.6 602.56 L518.6 604.71 L519.6 606.89 L520.6 609.08 L521.6 611.3 L522.6 613.52 L523.6 615.77 L524.6 618.02 L525.6 620.29 L526.6 622.56 L527.6 624.84 L528.6 627.12 L529.6 629.4 L530.6 631.69 L531.6 633.97 L532.6 636.24 L533.6 638.52 L534.6 640.78 L535.6 643.04 L536.6 645.28 L537.6 647.51 L538.6 649.73 L539.6 651.94 L540.6 654.12 L541.6 656.29 L542.6 658.44 L543.6 660.57 L544.6 662.68 L545.6 664.77 L546.6 666.83 L547.6 668.87 L548.6 670.89 L549.6 672.87 L550.6 674.83 L551.6 676.76 L552.6 678.67 L553.6 680.54 L554.6 682.39 L555.6 684.2 L556.6 685.98 L557.6 687.74 L558.6 689.46 L559.6 691.14 L560.6 692.8 L561.6 694.42 L562.6 696.01 L563.6 697.57 L564.6 699.09 L565.6 700.58 L566.6 702.03 L567.6 703.45 L568.6 704.84 L569.6 706.19 L570.6 707.51 L571.6 708.8 L572.6 710.05 L573.6 711.27 L574.6 712.45 L575.6 713.61 L576.6 714.73 L577.6 715.81 L578.6 716.86 L579.6 717.88 L580.6 718.87 L581.6 719.83 L582.6 720.75 L583.6 721.64 L584.6 722.5 L585.6 723.33 L586.6 724.13 L587.6 724.9 L588.6 725.63 L589.6 726.34 L590.6 727.02 L591.6 727.66 L592.6 728.28 L593.6 728.87 L594.6 729.44 L595.6 729.97 L596.6 730.48 L597.6 730.96 L598.6 731.41 L599.6 731.84 L600.6 732.25 L601.6 732.63 L602.6 732.98 L603.6 733.32 L604.6 733.63 L605.6 733.92 L606.6 734.19 L607.6 734.45 L608.6 734.68 L609.6 734.9 L610.6 735.1 L611.6 735.29 L612.6 735.46 L613.6 735.62 L614.6 735.77 L615.6 735.92 L616.6 736.05 L617.6 736.17 L618.6 736.29 L619.6 736.41 L620.6 736.52 L621.6 736.63 L622.6 736.73 L623.6 736.84 L624.6 736.95 L625.6 737.06 L626.6 737.17 L627.6 737.28 L628.6 737.4 L629.6 737.52 L630.6 737.64 L631.6 737.76 L632.6 737.88 L633.6 737.99 L634.6 738.11 L635.6 738.22 L636.6 738.32 L637.6 738.43 L638.6 738.53 L639.6 738.63 L640.6 738.73 L641.6 738.83 L642.6 738.93 L643.6 739.03 L644.6 739.12 L645.6 739.22 L646.6 739.32 L647.6 739.41 L648.6 739.51 L649.6 739.61 L650.6 739.7 L651.6 739.8 L652.6 739.9 L653.6 740 L654.6 740.1 L655.6 740.2 L656.6 740.3 L657.6 740.4 L658.6 740.5 L659.6 740.61 L660.6 740.71 L661.6 740.82 L662.6 740.92 L663.6 741.03 L664.6 741.13 L665.6 741.24 L666.6 741.34 L667.6 741.44 L668.6 741.55 L669.6 741.65 L670.6 741.76 L671.6 741.86 L672.6 741.96 L673.6 742.07 L674.6 742.17 L675.6 742.27 L676.6 742.37 L677.6 742.48 L678.6 742.58 L679.6 742.68 L680.6 742.78 L681.6 742.88 L682.6 742.99 L683.6 743.09 L684.6 743.19 L685.6 743.29 L686.6 743.39 L687.6 743.49 L688.6 743.59 L689.6 743.68 L690.6 743.78 L691.6 743.88 L692.6 743.98 L693.6 744.07 L694.6 744.17 L695.6 744.26 L696.6 744.36 L697.6 744.45 L698.6 744.55 L699.6 744.64 L700.6 744.73 L701.6 744.83 L702.6 744.92 L703.6 745.01 L704.6 745.1 L705.6 745.19 L706.6 745.28 L707.6 745.36 L708.6 745.45 L709.6 745.54 L710.6 745.63 L711.6 745.71 L712.6 745.8 L713.6 745.88 L714.6 745.96 L715.6 746.05 L716.6 746.13 L717.6 746.21 L718.6 746.29 L719.6 746.37 L720.6 746.45 L721.6 746.53 L722.6 746.61 L723.6 746.69 L724.6 746.76 L725.6 746.84 L726.6 746.92 L727.6 746.99 L728.6 747.06 L729.6 747.14 L730.6 747.21 L731.6 747.28 L732.6 747.36 L733.6 747.43 L734.6 747.5 L735.6 747.57 L736.6 747.64 L737.6 747.71 L738.6 747.78 L739.6 747.85 L740.6 747.91 L741.6 747.98 L742.6 748.05 L743.6 748.11 L744.6 748.18 L745.6 748.24 L746.6 748.31 L747.6 748.37 L748.6 748.44 L749.6 748.5 L750.6 748.56 L751.6 748.62 L752.6 748.69 L753.6 748.75 L754.6 748.81 L755.6 748.87 L756.6 748.93 L757.6 748.99 L758.6 749.05 L759.6 749.1 L760.6 749.16 L761.6 749.22 L762.6 749.28 L763.6 749.33 L764.6 749.39 L765.6 749.44 L766.6 749.5 L767.6 749.55 L768.6 749.61 L769.6 749.66 L770.6 749.72 L771.6 749.77 L772.6 749.82 L773.6 749.87 L774.6 749.92 L775.6 749.98 L776.6 750.03 L777.6 750.08 L778.6 750.13 L779.6 750.18 L780.6 750.23 L781.6 750.27 L782.6 750.32 L783.6 750.37 L784.6 750.42 L785.6 750.46 L786.6 750.51 L787.6 750.56 L788.6 750.6 L789.6 750.65 L790.6 750.69 L791.6 750.73 L792.6 750.78 L793.6 750.82 L794.6 750.86 L795.6 750.91 L796.6 750.95 L797.6 750.99 L798.6 751.03 L799.6 751.07 L800.6 751.11 L801.6 751.15 L802.6 751.19 L803.6 751.23 L804.6 751.27 L805.6 751.31 L806.6 751.34 L807.6 751.38 L808.6 751.42 L809.6 751.45" fill="none" stroke="#0000ff" stroke-width="6.8" stroke-linejoin="round" stroke-linecap="butt"/>
<path d="M160 1163.67 L161 1163.66 L162 1163.66 L163 1163.66 L164 1163.66 L165 1163.66 L166 1163.66 L167 1163.65 L168 1163.65 L169 1163.65 L170 1163.65 L171 1163.64 L172 1163.64 L173 1163.64 L174 1163.64 L175 1163.63 L176 1163.63 L177 1163.63 L178 1163.62 L179 1163.62 L180 1163.62 L181 1163.61 L182 1163.61 L183 1163.61 L184 1163.6 L185 1163.6 L186 1163.59 L187 1163.59 L188 1163.58 L189 1163.58 L190 1163.57 L191 1163.57 L192 1163.56 L193 1163.55 L194 1163.55 L195 1163.54 L196 1163.53 L197 1163.53 L198 1163.52 L199 1163.51 L200 1163.5 L201 1163.5 L202 1163.49 L203 1163.48 L204 1163.47 L205 1163.46 L206 1163.45 L207 1163.44 L208 1163.43 L209 1163.42 L210 1163.41 L211 1163.4 L212 1163.38 L213 1163.37 L214 1163.36 L215 1163.35 L216 1163.33 L217 1163.32 L218 1163.3 L219 1163.29 L220 1163.27 L221 1163.26 L222 1163.24 L223 1163.22 L224 1163.2 L225 1163.19 L226 1163.17 L227 1163.15 L228 1163.13 L229 1163.11 L230 1163.09 L231 1163.07 L232 1163.04 L233 1163.02 L234 1163 L235 1162.97 L236 1162.95 L237 1162.92 L238 1162.9 L239 1162.87 L240 1162.84 L241 1162.81 L242 1162.79 L243 1162.76 L244 1162.73 L245 1162.69 L246 1162.66 L247 1162.63 L248 1162.6 L249 1162.56 L250 1162.53 L251 1162.49 L252 1162.46 L253 1162.42 L254 1162.38 L255 1162.34 L256 1162.3 L257 1162.26 L258 1162.22 L259 1162.18 L260 1162.14 L261 1162.09 L262 1162.05 L263 1162 L264 1161.96 L265 1161.91 L266 1161.86 L267 1161.81 L268 1161.76 L269 1161.71 L270 1161.66 L271 1161.61 L272 1161.56 L273 1161.5 L274 1161.45 L275 1161.39 L276 1161.34 L277 1161.28 L278 1161.22 L279 1161.16 L280 1161.1 L281 1161.04 L282 1160.98 L283 1160.92 L284 1160.86 L285 1160.8 L286 1160.73 L287 1160.67 L288 1160.6 L289 1160.53 L290 1160.47 L291 1160.4 L292 1160.33 L293 1160.26 L294 1160.19 L295 1160.12 L296 1160.05 L297 1159.98 L298 1159.91 L299 1159.84 L300 1159.76 L301 1159.69 L302 1159.61 L303 1159.54 L304 1159.46 L305 1159.39 L306 1159.31 L307 1159.24 L308 1159.16 L309 1159.08 L310 1159 L311 1158.92 L312 1158.85 L313 1158.77 L314 1158.69 L315 1158.61 L316 1158.53 L317 1158.45 L318 1158.37 L319 1158.29 L320 1158.2 L321 1158.12 L322 1158.04 L323 1157.96 L324 1157.88 L325 1157.8 L326 1157.71 L327 1157.63 L328 1157.55 L329 1157.47 L330 1157.38 L331 1157.3 L332 1157.22 L333 1157.13 L334 1157.05 L335 1156.97 L336 1156.88 L337 1156.8 L338 1156.72 L339 1156.63 L340 1156.55 L341 1156.47 L342 1156.38 L343 1156.3 L344 1156.21 L345 1156.13 L346 1156.04 L347 1155.96 L348 1155.87 L349 1155.79 L350 1155.7 L351 1155.62 L352 1155.53 L353 1155.45 L354 1155.36 L355 1155.28 L356 1155.19 L357 1155.1 L358 1155.02 L359 1154.93 L360 1154.84 L361 1154.75 L362 1154.67 L363 1154.58 L364 1154.49 L365 1154.4 L366 1154.31 L367 1154.22 L368 1154.13 L369 1154.04 L370 1153.94 L371 1153.85 L372 1153.76 L373 1153.66 L374 1153.56 L375 1153.46 L376 1153.36 L377 1153.25 L378 1153.15 L379 1153.04 L380 1152.93 L381 1152.82 L382 1152.7 L383 1152.59 L384 1152.47 L385 1152.35 L386 1152.23 L387 1152.1 L388 1151.98 L389 1151.85 L390 1151.72 L391 1151.58 L392 1151.45 L393 1151.31 L394 1151.17 L395 1151.03 L396 1150.89 L397 1150.74 L398 1150.59 L399 1150.45 L400 1150.29 L401 1150.14 L402 1149.98 L403 1149.83 L404 1149.67 L405 1149.5 L406 1149.34 L407 1149.17 L408 1149.01 L409 1148.84 L410 1148.66 L411 1148.49 L412 1148.32 L413 1148.14 L414 1147.96 L415 1147.78 L416 1147.6 L417 1147.42 L418 1147.23 L419 1147.05 L420 1146.86 L421 1146.67 L422 1146.48 L423 1146.29 L424 1146.1 L425 1145.91 L426 1145.71 L427 1145.52 L428 1145.33 L429 1145.13 L430 1144.94 L431 1144.74 L432 1144.54 L433 1144.35 L434 1144.15 L435 1143.96 L436 1143.76 L437 1143.56 L438 1143.37 L439 1143.17 L440 1142.98 L441 1142.79 L442 1142.59 L443 1142.4 L444 1142.21 L445 1142.02 L446 1141.84 L447 1141.65 L448 1141.47 L449 1141.28 L450 1141.1 L451 1140.92 L452 1140.75 L453 1140.57 L454 1140.4 L455 1140.23 L456 1140.06 L457 1139.9 L458 1139.74 L459 1139.58 L460 1139.42 L461 1139.27 L462 1139.12 L463 1138.98 L464 1138.84 L465 1138.7 L466 1138.57 L467 1138.44 L468 1138.31 L469 1138.19 L470 1138.07 L471 1137.96 L472 1137.85 L473 1137.75 L474 1137.65 L475 1137.56 L476 1137.47 L477 1137.39 L478 1137.31 L479 1137.24 L480 1137.17 L481 1137.11 L482 1137.05 L483 1137 L484 1136.95 L485 1136.91 L486 1136.88 L487 1136.85 L488 1136.83 L489 1136.81 L490 1136.8 L491 1136.79 L492 1136.79 L493 1136.8 L494 1136.81 L495 1136.83 L496 1136.86 L497 1136.89 L498 1136.92 L499 1136.97 L500 1137.01 L501 1137.07 L502 1137.12 L503 1137.19 L504 1137.25 L505 1137.33 L506 1137.4 L507 1137.49 L508 1137.57 L509 1137.67 L510 1137.76 L511 1137.87 L512 1137.97 L513 1138.08 L514 1138.2 L515 1138.32 L516 1138.45 L517 1138.57 L518 1138.71 L519 1138.85 L520 1138.99 L521 1139.13 L522 1139.28 L523 1139.44 L524 1139.6 L525 1139.76 L526 1139.92 L527 1140.09 L528 1140.26 L529 1140.44 L530 1140.61 L531 1140.79 L532 1140.98 L533 1141.16 L534 1141.35 L535 1141.54 L536 1141.74 L537 1141.93 L538 1142.13 L539 1142.33 L540 1142.53 L541 1142.73 L542 1142.94 L543 1143.14 L544 1143.35 L545 1143.55 L546 1143.76 L547 1143.97 L548 1144.17 L549 1144.38 L550 1144.59 L551 1144.79 L552 1145 L553 1145.21 L554 1145.41 L555 1145.61 L556 1145.81 L557 1146.01 L558 1146.21 L559 1146.41 L560 1146.6 L561 1146.79 L562 1146.98 L563 1147.16 L564 1147.34 L565 1147.52 L566 1147.69 L567 1147.86 L568 1148.03 L569 1148.19 L570 1148.34 L571 1148.49 L572 1148.64 L573 1148.77 L574 1148.91 L575 1149.03 L576 1149.15 L577 1149.26 L578 1149.37 L579 1149.47 L580 1149.56 L581 1149.64 L582 1149.72 L583 1149.78 L584 1149.84 L585 1149.89 L586 1149.93 L587 1149.96 L588 1149.98 L589 1149.99 L590 1149.99 L591 1149.98 L592 1149.96 L593 1149.93 L594 1149.89 L595 1149.83 L596 1149.77 L597 1149.7 L598 1149.61 L599 1149.51 L600 1149.4 L601 1149.28 L602 1149.15 L603 1149.01 L604 1148.86 L605 1148.69 L606 1148.51 L607 1148.32 L608 1148.12 L609 1147.91 L610 1147.69 L611 1147.46 L612 1147.21 L613 1146.96 L614 1146.69 L615 1146.42 L616 1146.13 L617 1145.84 L618 1145.53 L619 1145.22 L620 1144.9 L621 1144.57 L622 1144.24 L623 1143.9 L624 1143.55 L625 1143.19 L626 1142.83 L627 1142.47 L628 1142.1 L629 1141.72 L630 1141.35 L631 1140.97 L632 1140.59 L633 1140.2 L634 1139.82 L635 1139.44 L636 1139.06 L637 1138.68 L638 1138.3 L639 1137.93 L640 1137.56 L641 1137.19 L642 1136.83 L643 1136.48 L644 1136.13 L645 1135.79 L646 1135.46 L647 1135.14 L648 1134.82 L649 1134.52 L650 1134.23 L651 1133.95 L652 1133.68 L653 1133.43 L654 1133.19 L655 1132.96 L656 1132.75 L657 1132.55 L658 1132.37 L659 1132.21 L660 1132.06 L661 1131.93 L662 1131.82 L663 1131.72 L664 1131.64 L665 1131.59 L666 1131.55 L667 1131.52 L668 1131.52 L669 1131.54 L670 1131.57 L671 1131.63 L672 1131.71 L673 1131.81 L674 1131.93 L675 1132.07 L676 1132.23 L677 1132.41 L678 1132.61 L679 1132.83 L680 1133.07 L681 1133.33 L682 1133.6 L683 1133.9 L684 1134.21 L685 1134.54 L686 1134.88 L687 1135.25 L688 1135.62 L689 1136.01 L690 1136.41 L691 1136.83 L692 1137.26 L693 1137.7 L694 1138.14 L695 1138.6 L696 1139.07 L697 1139.55 L698 1140.03 L699 1140.52 L700 1141.02 L701 1141.52 L702 1142.02 L703 1142.53 L704 1143.04 L705 1143.55 L706 1144.07 L707 1144.58 L708 1145.09 L709 1145.61 L710 1146.12 L711 1146.63 L712 1147.13 L713 1147.63 L714 1148.13 L715 1148.62 L716 1149.11 L717 1149.59 L718 1150.07 L719 1150.53 L720 1151 L721 1151.45 L722 1151.9 L723 1152.33 L724 1152.76 L725 1153.18 L726 1153.59 L727 1154 L728 1154.39 L729 1154.77 L730 1155.14 L731 1155.51 L732 1155.86 L733 1156.21 L734 1156.54 L735 1156.86 L736 1157.18 L737 1157.48 L738 1157.77 L739 1158.06 L740 1158.33 L741 1158.6 L742 1158.85 L743 1159.1 L744 1159.33 L745 1159.56 L746 1159.78 L747 1159.98 L748 1160.18 L749 1160.38 L750 1160.56 L751 1160.74 L752 1160.9 L753 1161.06 L754 1161.22 L755 1161.36 L756 1161.5 L757 1161.63 L758 1161.76 L759 1161.87 L760 1161.99 L761 1162.09 L762 1162.2 L763 1162.29 L764 1162.38 L765 1162.47 L766 1162.55 L767 1162.62 L768 1162.7 L769 1162.76 L770 1162.83 L771 1162.89 L772 1162.94 L773 1163 L774 1163.05 L775 1163.09 L776 1163.14 L777 1163.18 L778 1163.22 L779 1163.25 L780 1163.28 L781 1163.32 L782 1163.34 L783 1163.37 L784 1163.4 L785 1163.42 L786 1163.44 L787 1163.46 L788 1163.48 L789 1163.5 L790 1163.51 L791 1163.53 L792 1163.54 L793 1163.55 L794 1163.57 L795 1163.58 L796 1163.59 L797 1163.6 L798 1163.6 L799 1163.61 L800 1163.62 L801 1163.63 L802 1163.63 L803 1163.64 L804 1163.64 L805 1163.65" fill="none" stroke="#ff0000" stroke-width="6.8" stroke-linejoin="round" stroke-linecap="butt"/>
<path d="M160 1164.1 L161 1164.09 L162 1164.07 L163 1164.05 L164 1164.04 L165 1164.02 L166 1164 L167 1163.99 L168 1163.97 L169 1163.95 L170 1163.94 L171 1163.92 L172 1163.9 L173 1163.88 L174 1163.86 L175 1163.85 L176 1163.83 L177 1163.81 L178 1163.79 L179 1163.77 L180 1163.75 L181 1163.73 L182 1163.71 L183 1163.69 L184 1163.67 L185 1163.65 L186 1163.63 L187 1163.61 L188 1163.59 L189 1163.57 L190 1163.55 L191 1163.52 L192 1163.5 L193 1163.48 L194 1163.46 L195 1163.43 L196 1163.41 L197 1163.39 L198 1163.36 L199 1163.34 L200 1163.31 L201 1163.29 L202 1163.26 L203 1163.24 L204 1163.21 L205 1163.18 L206 1163.16 L207 1163.13 L208 1163.1 L209 1163.07 L210 1163.04 L211 1163.02 L212 1162.99 L213 1162.96 L214 1162.93 L215 1162.89 L216 1162.86 L217 1162.83 L218 1162.8 L219 1162.77 L220 1162.73 L221 1162.7 L222 1162.66 L223 1162.63 L224 1162.59 L225 1162.55 L226 1162.51 L227 1162.48 L228 1162.44 L229 1162.4 L230 1162.35 L231 1162.31 L232 1162.27 L233 1162.22 L234 1162.18 L235 1162.13 L236 1162.09 L237 1162.04 L238 1161.99 L239 1161.94 L240 1161.88 L241 1161.83 L242 1161.78 L243 1161.72 L244 1161.66 L245 1161.6 L246 1161.54 L247 1161.48 L248 1161.41 L249 1161.34 L250 1161.28 L251 1161.21 L252 1161.13 L253 1161.06 L254 1160.98 L255 1160.9 L256 1160.82 L257 1160.73 L258 1160.65 L259 1160.56 L260 1160.46 L261 1160.37 L262 1160.27 L263 1160.16 L264 1160.06 L265 1159.95 L266 1159.84 L267 1159.72 L268 1159.6 L269 1159.47 L270 1159.34 L271 1159.21 L272 1159.07 L273 1158.93 L274 1158.78 L275 1158.63 L276 1158.47 L277 1158.3 L278 1158.13 L279 1157.96 L280 1157.77 L281 1157.58 L282 1157.39 L283 1157.19 L284 1156.98 L285 1156.76 L286 1156.54 L287 1156.31 L288 1156.06 L289 1155.82 L290 1155.56 L291 1155.29 L292 1155.02 L293 1154.73 L294 1154.44 L295 1154.13 L296 1153.82 L297 1153.49 L298 1153.15 L299 1152.81 L300 1152.44 L301 1152.07 L302 1151.69 L303 1151.29 L304 1150.88 L305 1150.45 L306 1150.02 L307 1149.56 L308 1149.1 L309 1148.62 L310 1148.12 L311 1147.61 L312 1147.08 L313 1146.53 L314 1145.97 L315 1145.39 L316 1144.79 L317 1144.18 L318 1143.55 L319 1142.89 L320 1142.22 L321 1141.53 L322 1140.82 L323 1140.09 L324 1139.34 L325 1138.57 L326 1137.77 L327 1136.96 L328 1136.12 L329 1135.26 L330 1134.37 L331 1133.47 L332 1132.54 L333 1131.58 L334 1130.61 L335 1129.6 L336 1128.58 L337 1127.53 L338 1126.45 L339 1125.35 L340 1124.22 L341 1123.06 L342 1121.88 L343 1120.67 L344 1119.44 L345 1118.18 L346 1116.89 L347 1115.58 L348 1114.24 L349 1112.87 L350 1111.47 L351 1110.05 L352 1108.6 L353 1107.12 L354 1105.61 L355 1104.08 L356 1102.52 L357 1100.93 L358 1099.32 L359 1097.67 L360 1096.01 L361 1094.31 L362 1092.59 L363 1090.84 L364 1089.07 L365 1087.27 L366 1085.45 L367 1083.6 L368 1081.73 L369 1079.83 L370 1077.91 L371 1075.97 L372 1074.01 L373 1072.02 L374 1070.01 L375 1067.98 L376 1065.94 L377 1063.87 L378 1061.79 L379 1059.68 L380 1057.56 L381 1055.43 L382 1053.28 L383 1051.11 L384 1048.94 L385 1046.75 L386 1044.55 L387 1042.33 L388 1040.12 L389 1037.89 L390 1035.65 L391 1033.41 L392 1031.17 L393 1028.92 L394 1026.67 L395 1024.42 L396 1022.17 L397 1019.93 L398 1017.69 L399 1015.45 L400 1013.22 L401 1011 L402 1008.78 L403 1006.58 L404 1004.39 L405 1002.22 L406 1000.06 L407 997.92 L408 995.79 L409 993.69 L410 991.61 L411 989.56 L412 987.53 L413 985.53 L414 983.56 L415 981.62 L416 979.72 L417 977.85 L418 976.01 L419 974.22 L420 972.46 L421 970.75 L422 969.08 L423 967.46 L424 965.88 L425 964.35 L426 962.88 L427 961.45 L428 960.08 L429 958.77 L430 957.51 L431 956.31 L432 955.18 L433 954.1 L434 953.09 L435 952.14 L436 951.25 L437 950.44 L438 949.69 L439 949.01 L440 948.4 L441 947.85 L442 947.38 L443 946.99 L444 946.66 L445 946.41 L446 946.23 L447 946.12 L448 946.09 L449 946.12 L450 946.21 L451 946.37 L452 946.58 L453 946.85 L454 947.19 L455 947.58 L456 948.03 L457 948.54 L458 949.11 L459 949.73 L460 950.42 L461 951.15 L462 951.95 L463 952.79 L464 953.69 L465 954.64 L466 955.65 L467 956.7 L468 957.8 L469 958.95 L470 960.15 L471 961.39 L472 962.68 L473 964.01 L474 965.38 L475 966.79 L476 968.24 L477 969.73 L478 971.26 L479 972.82 L480 974.42 L481 976.05 L482 977.71 L483 979.4 L484 981.12 L485 982.87 L486 984.64 L487 986.44 L488 988.26 L489 990.1 L490 991.97 L491 993.85 L492 995.75 L493 997.67 L494 999.61 L495 1001.56 L496 1003.52 L497 1005.49 L498 1007.47 L499 1009.47 L500 1011.47 L501 1013.48 L502 1015.49 L503 1017.51 L504 1019.54 L505 1021.56 L506 1023.59 L507 1025.62 L508 1027.64 L509 1029.67 L510 1031.69 L511 1033.71 L512 1035.73 L513 1037.73 L514 1039.74 L515 1041.73 L516 1043.72 L517 1045.7 L518 1047.67 L519 1049.63 L520 1051.57 L521 1053.51 L522 1055.43 L523 1057.34 L524 1059.23 L525 1061.11 L526 1062.97 L527 1064.82 L528 1066.64 L529 1068.46 L530 1070.25 L531 1072.02 L532 1073.78 L533 1075.51 L534 1077.23 L535 1078.92 L536 1080.6 L537 1082.25 L538 1083.88 L539 1085.48 L540 1087.06 L541 1088.62 L542 1090.16 L543 1091.67 L544 1093.16 L545 1094.62 L546 1096.06 L547 1097.47 L548 1098.85 L549 1100.21 L550 1101.54 L551 1102.85 L552 1104.13 L553 1105.38 L554 1106.6 L555 1107.8 L556 1108.97 L557 1110.11 L558 1111.23 L559 1112.31 L560 1113.37 L561 1114.41 L562 1115.41 L563 1116.39 L564 1117.35 L565 1118.27 L566 1119.18 L567 1120.06 L568 1120.91 L569 1121.75 L570 1122.56 L571 1123.36 L572 1124.14 L573 1124.91 L574 1125.66 L575 1126.4 L576 1127.14 L577 1127.86 L578 1128.59 L579 1129.31 L580 1130.02 L581 1130.74 L582 1131.46 L583 1132.19 L584 1132.9 L585 1133.61 L586 1134.31 L587 1135 L588 1135.68 L589 1136.35 L590 1137.02 L591 1137.67 L592 1138.32 L593 1138.96 L594 1139.59 L595 1140.21 L596 1140.82 L597 1141.42 L598 1142.01 L599 1142.59 L600 1143.16 L601 1143.71 L602 1144.26 L603 1144.79 L604 1145.32 L605 1145.83 L606 1146.32 L607 1146.81 L608 1147.29 L609 1147.75 L610 1148.2 L611 1148.64 L612 1149.07 L613 1149.48 L614 1149.89 L615 1150.28 L616 1150.66 L617 1151.03 L618 1151.39 L619 1151.74 L620 1152.08 L621 1152.41 L622 1152.73 L623 1153.04 L624 1153.34 L625 1153.63 L626 1153.92 L627 1154.19 L628 1154.46 L629 1154.71 L630 1154.96 L631 1155.21 L632 1155.44 L633 1155.67 L634 1155.89 L635 1156.1 L636 1156.31 L637 1156.51 L638 1156.7 L639 1156.89 L640 1157.07 L641 1157.25 L642 1157.42 L643 1157.59 L644 1157.75 L645 1157.9 L646 1158.05 L647 1158.2 L648 1158.34 L649 1158.48 L650 1158.61 L651 1158.74 L652 1158.87 L653 1158.99 L654 1159.11 L655 1159.23 L656 1159.34 L657 1159.45 L658 1159.55 L659 1159.65 L660 1159.75 L661 1159.85 L662 1159.95 L663 1160.04 L664 1160.13 L665 1160.21 L666 1160.3 L667 1160.38 L668 1160.46 L669 1160.54 L670 1160.61 L671 1160.69 L672 1160.76 L673 1160.83 L674 1160.9 L675 1160.97 L676 1161.03 L677 1161.1 L678 1161.16 L679 1161.22 L680 1161.28 L681 1161.34 L682 1161.39 L683 1161.45 L684 1161.5 L685 1161.56 L686 1161.61 L687 1161.66 L688 1161.71 L689 1161.76 L690 1161.8 L691 1161.85 L692 1161.9 L693 1161.94 L694 1161.99 L695 1162.03 L696 1162.07 L697 1162.11 L698 1162.15 L699 1162.19 L700 1162.23 L701 1162.27 L702 1162.31 L703 1162.35 L704 1162.38 L705 1162.42 L706 1162.46 L707 1162.49 L708 1162.52 L709 1162.56 L710 1162.59 L711 1162.62 L712 1162.66 L713 1162.69 L714 1162.72 L715 1162.75 L716 1162.78 L717 1162.81 L718 1162.84 L719 1162.87 L720 1162.9 L721 1162.93 L722 1162.95 L723 1162.98 L724 1163.01 L725 1163.04 L726 1163.06 L727 1163.09 L728 1163.11 L729 1163.14 L730 1163.16 L731 1163.19 L732 1163.21 L733 1163.24 L734 1163.26 L735 1163.28 L736 1163.31 L737 1163.33 L738 1163.35 L739 1163.38 L740 1163.4 L741 1163.42 L742 1163.44 L743 1163.46 L744 1163.48 L745 1163.5 L746 1163.53 L747 1163.55 L748 1163.57 L749 1163.59 L750 1163.61 L751 1163.63 L752 1163.65 L753 1163.66 L754 1163.68 L755 1163.7 L756 1163.72 L757 1163.74 L758 1163.76 L759 1163.78 L760 1163.79 L761 1163.81 L762 1163.83 L763 1163.85 L764 1163.86 L765 1163.88 L766 1163.9 L767 1163.91 L768 1163.93 L769 1163.95 L770 1163.96 L771 1163.98 L772 1163.99 L773 1164.01 L774 1164.02 L775 1164.04 L776 1164.05 L777 1164.07 L778 1164.08 L779 1164.1 L780 1164.11 L781 1164.13 L782 1164.14 L783 1164.16 L784 1164.17 L785 1164.19 L786 1164.2 L787 1164.21 L788 1164.23 L789 1164.24 L790 1164.25 L791 1164.27 L792 1164.28 L793 1164.29 L794 1164.31 L795 1164.32 L796 1164.33 L797 1164.34 L798 1164.36 L799 1164.37 L800 1164.38 L801 1164.39 L802 1164.4 L803 1164.42 L804 1164.43 L805 1164.44" fill="none" stroke="#0000ff" stroke-width="6.8" stroke-linejoin="round" stroke-linecap="butt"/>
<g stroke="#000" stroke-width="4" fill="none">
<rect x="149.6" y="5.6" width="671.8" height="327.5" fill="none" stroke="#000" stroke-width="4"/>
<line x1="132.6" y1="326.7" x2="148.6" y2="326.7"/>
<line x1="140.1" y1="295.6" x2="148.6" y2="295.6"/>
<line x1="136.6" y1="264.5" x2="148.6" y2="264.5"/>
<line x1="140.1" y1="233.4" x2="148.6" y2="233.4"/>
<line x1="132.6" y1="202.3" x2="148.6" y2="202.3"/>
<line x1="140.1" y1="171.2" x2="148.6" y2="171.2"/>
<line x1="136.6" y1="140.1" x2="148.6" y2="140.1"/>
<line x1="140.1" y1="109" x2="148.6" y2="109"/>
<line x1="132.6" y1="77.9" x2="148.6" y2="77.9"/>
<line x1="140.1" y1="46.8" x2="148.6" y2="46.8"/>
<line x1="136.6" y1="15.7" x2="148.6" y2="15.7"/>
<line x1="166.8" y1="334.1" x2="166.8" y2="350.1"/>
<line x1="228.65" y1="334.1" x2="228.65" y2="342.6"/>
<line x1="290.5" y1="334.1" x2="290.5" y2="346.1"/>
<line x1="352.35" y1="334.1" x2="352.35" y2="342.6"/>
<line x1="414.2" y1="334.1" x2="414.2" y2="350.1"/>
<line x1="476.05" y1="334.1" x2="476.05" y2="342.6"/>
<line x1="537.9" y1="334.1" x2="537.9" y2="346.1"/>
<line x1="599.75" y1="334.1" x2="599.75" y2="342.6"/>
<line x1="661.6" y1="334.1" x2="661.6" y2="350.1"/>
<line x1="723.45" y1="334.1" x2="723.45" y2="342.6"/>
<line x1="785.3" y1="334.1" x2="785.3" y2="346.1"/>
<rect x="162.7" y="430.9" width="652.7" height="327.4" fill="none" stroke="#000" stroke-width="4"/>
<line x1="145.7" y1="751.8" x2="161.7" y2="751.8"/>
<line x1="153.2" y1="734.33" x2="161.7" y2="734.33"/>
<line x1="149.7" y1="716.86" x2="161.7" y2="716.86"/>
<line x1="153.2" y1="699.39" x2="161.7" y2="699.39"/>
<line x1="145.7" y1="681.92" x2="161.7" y2="681.92"/>
<line x1="153.2" y1="664.45" x2="161.7" y2="664.45"/>
<line x1="149.7" y1="646.98" x2="161.7" y2="646.98"/>
<line x1="153.2" y1="629.51" x2="161.7" y2="629.51"/>
<line x1="145.7" y1="612.04" x2="161.7" y2="612.04"/>
<line x1="153.2" y1="594.57" x2="161.7" y2="594.57"/>
<line x1="149.7" y1="577.1" x2="161.7" y2="577.1"/>
<line x1="153.2" y1="559.63" x2="161.7" y2="559.63"/>
<line x1="145.7" y1="542.16" x2="161.7" y2="542.16"/>
<line x1="153.2" y1="524.69" x2="161.7" y2="524.69"/>
<line x1="149.7" y1="507.22" x2="161.7" y2="507.22"/>
<line x1="153.2" y1="489.75" x2="161.7" y2="489.75"/>
<line x1="145.7" y1="472.28" x2="161.7" y2="472.28"/>
<line x1="153.2" y1="454.81" x2="161.7" y2="454.81"/>
<line x1="149.7" y1="437.34" x2="161.7" y2="437.34"/>
<line x1="178.8" y1="759.3" x2="178.8" y2="775.3"/>
<line x1="227.84" y1="759.3" x2="227.84" y2="767.8"/>
<line x1="276.87" y1="759.3" x2="276.87" y2="771.3"/>
<line x1="325.9" y1="759.3" x2="325.9" y2="767.8"/>
<line x1="374.94" y1="759.3" x2="374.94" y2="775.3"/>
<line x1="423.98" y1="759.3" x2="423.98" y2="767.8"/>
<line x1="473.01" y1="759.3" x2="473.01" y2="771.3"/>
<line x1="522.05" y1="759.3" x2="522.05" y2="767.8"/>
<line x1="571.08" y1="759.3" x2="571.08" y2="775.3"/>
<line x1="620.12" y1="759.3" x2="620.12" y2="767.8"/>
<line x1="669.15" y1="759.3" x2="669.15" y2="771.3"/>
<line x1="718.18" y1="759.3" x2="718.18" y2="767.8"/>
<line x1="767.22" y1="759.3" x2="767.22" y2="775.3"/>
<rect x="156.2" y="856.8" width="655.5" height="314" fill="none" stroke="#000" stroke-width="4"/>
<line x1="139.2" y1="1164.6" x2="155.2" y2="1164.6"/>
<line x1="146.7" y1="1126.9" x2="155.2" y2="1126.9"/>
<line x1="143.2" y1="1089.2" x2="155.2" y2="1089.2"/>
<line x1="146.7" y1="1051.5" x2="155.2" y2="1051.5"/>
<line x1="139.2" y1="1013.8" x2="155.2" y2="1013.8"/>
<line x1="146.7" y1="976.1" x2="155.2" y2="976.1"/>
<line x1="143.2" y1="938.4" x2="155.2" y2="938.4"/>
<line x1="146.7" y1="900.7" x2="155.2" y2="900.7"/>
<line x1="139.2" y1="863" x2="155.2" y2="863"/>
<line x1="225" y1="1171.8" x2="225" y2="1187.8"/>
<line x1="297.34" y1="1171.8" x2="297.34" y2="1180.3"/>
<line x1="369.68" y1="1171.8" x2="369.68" y2="1183.8"/>
<line x1="442.02" y1="1171.8" x2="442.02" y2="1180.3"/>
<line x1="514.36" y1="1171.8" x2="514.36" y2="1187.8"/>
<line x1="586.7" y1="1171.8" x2="586.7" y2="1180.3"/>
<line x1="659.04" y1="1171.8" x2="659.04" y2="1183.8"/>
<line x1="731.38" y1="1171.8" x2="731.38" y2="1180.3"/>
<line x1="803.72" y1="1171.8" x2="803.72" y2="1187.8"/>
</g>
<g stroke="#000" stroke-width="2.2" fill="none">
<line x1="413.5" y1="206.4" x2="354.4" y2="248.2"/>
<line x1="505.7" y1="205" x2="557.5" y2="235.2"/>
<polyline points="390,493 390,472 579.5,472 579.5,494.3"/>
<line x1="645.3" y1="653.8" x2="645.3" y2="720.7"/>
<polyline points="354.5,938.7 354.5,917.5 594.8,917.5 594.8,938.7"/>
<polyline points="618.8,1131.3 618.8,1110.4 729.3,1110.4 729.3,1131.3"/>
<polyline points="458.4,1081.6 458.4,1061.4"/><polyline points="569.7,1081.6 569.7,1061.4"/>
<line x1="457.4" y1="1061.4" x2="570.7" y2="1061.4" stroke-dasharray="8.8 9" stroke-dashoffset="3.3"/>
</g>
<rect x="636" y="542" width="2" height="2" fill="#000"/>
<line x1="198.1" y1="126.7" x2="264" y2="126.7" stroke="#ff0000" stroke-width="6.6"/>
<line x1="198.1" y1="166.9" x2="264" y2="166.9" stroke="#0000ff" stroke-width="6.7"/>
<text transform="translate(137.4,392.15) scale(1.0219,1)" font-size="34.000">295</text>
<text transform="translate(384.78,392.15) scale(1.0378,1)" font-size="34.000">290</text>
<text transform="translate(632.2,392.15) scale(1.0183,1)" font-size="34.000">285</text>
<text transform="translate(103.81,338.4) scale(1.1070,1)" font-size="34.000">0</text>
<text transform="translate(105.08,214.17) scale(1.0324,1)" font-size="34.000">2</text>
<text transform="translate(33.77,89.6) scale(1.0240,1)" font-size="34.000">4x10</text>
<text transform="translate(111.26,68.01) scale(1.1274,1)" font-size="20.700">3</text>
<text transform="translate(193.17,74.5) scale(1.0298,1)" font-size="38.518" style="font-style:italic">(a) C 1s</text>
<text transform="translate(280.17,138) scale(0.8374,1)" font-size="36.192">E1</text>
<text transform="translate(279.86,178) scale(0.9539,1)" font-size="36.629">E2</text>
<text transform="translate(631.25,47.1) scale(1.0132,1)" font-size="30.088">C-C</text>
<text transform="translate(411.65,159.3) scale(0.9652,1)" font-size="31.687">PVdF</text>
<text transform="translate(404.61,193.5) scale(0.9823,1)" font-size="30.663">binder</text>
<text transform="translate(30.2,329.11) rotate(-90) scale(0.9564,1)" font-size="36.483">XPS signal, arb. u.</text>
<text transform="translate(149.72,817.18) scale(1.0285,1)" font-size="34.000">693</text>
<text transform="translate(345.4,817.2) scale(1.0427,1)" font-size="34.000">690</text>
<text transform="translate(541.1,817.2) scale(1.0447,1)" font-size="34.000">687</text>
<text transform="translate(737.33,817.2) scale(1.0181,1)" font-size="34.000">684</text>
<text transform="translate(116.69,763.5) scale(1.1255,1)" font-size="34.000">0</text>
<text transform="translate(117.75,693.79) scale(1.0630,1)" font-size="34.000">2</text>
<text transform="translate(118.82,623.74) scale(0.9389,1)" font-size="34.000">4</text>
<text transform="translate(117.9,553.86) scale(1.0465,1)" font-size="34.000">6</text>
<text transform="translate(46.39,483.98) scale(1.0319,1)" font-size="34.000">8x10</text>
<text transform="translate(124.46,462.39) scale(1.1274,1)" font-size="20.700">3</text>
<text transform="translate(192.77,493.2) scale(1.0156,1)" font-size="39.100" style="font-style:italic">(b) F 1s</text>
<text transform="translate(614.26,494.2) scale(0.9729,1)" font-size="31.396">PVdF</text>
<text transform="translate(623.15,642.5) scale(0.9632,1)" font-size="31.832">LiF</text>
<text transform="translate(34.5,755.21) rotate(-90) scale(0.9573,1)" font-size="36.483">XPS signal, arb. u.</text>
<text transform="translate(195.91,1230.98) scale(1.0413,1)" font-size="34.000">536</text>
<text transform="translate(485.64,1230.98) scale(1.0180,1)" font-size="34.000">532</text>
<text transform="translate(774.71,1231) scale(1.0378,1)" font-size="34.000">528</text>
<text transform="translate(111.27,1176.3) scale(1.0637,1)" font-size="34.000">0</text>
<text transform="translate(111.35,1025.67) scale(1.0569,1)" font-size="34.000">2</text>
<text transform="translate(40.47,874.7) scale(1.0240,1)" font-size="34.000">4x10</text>
<text transform="translate(117.96,853.11) scale(1.1274,1)" font-size="20.700">3</text>
<text transform="translate(192.77,919.2) scale(1.0276,1)" font-size="38.518" style="font-style:italic">(c) O 1s</text>
<text transform="translate(534.12,1046.2) scale(0.9865,1)" font-size="31.042">surface impurity</text>
<text transform="translate(606.05,1096.6) scale(0.9758,1)" font-size="31.396">NMC oxide</text>
<text transform="translate(326.68,1271.7) scale(0.9602,1)" font-size="36.192">Binding energy, eV</text>
<text transform="translate(34.5,1174.01) rotate(-90) scale(0.9541,1)" font-size="36.483">XPS signal, arb. u.</text>
<text transform="translate(372.15,897.5) scale(0.9992,1)" font-size="30.700">LiOH, LiHCO</text>
<text transform="translate(557.83,906.61) scale(1.1720,1)" font-size="17.337">3</text>
<text transform="translate(567.15,897.5) scale(1.3661,1)" font-size="30.700">,</text>
<text transform="translate(587.29,897.5) scale(1.0280,1)" font-size="30.700">Li</text>
<text transform="translate(613.77,906.6) scale(1.3133,1)" font-size="18.189">2</text>
<text transform="translate(626.25,897.5) scale(0.9954,1)" font-size="30.700">CO</text>
<text transform="translate(671.7,906.4) scale(1.2138,1)" font-size="17.901">3</text>
</svg></body></html>
